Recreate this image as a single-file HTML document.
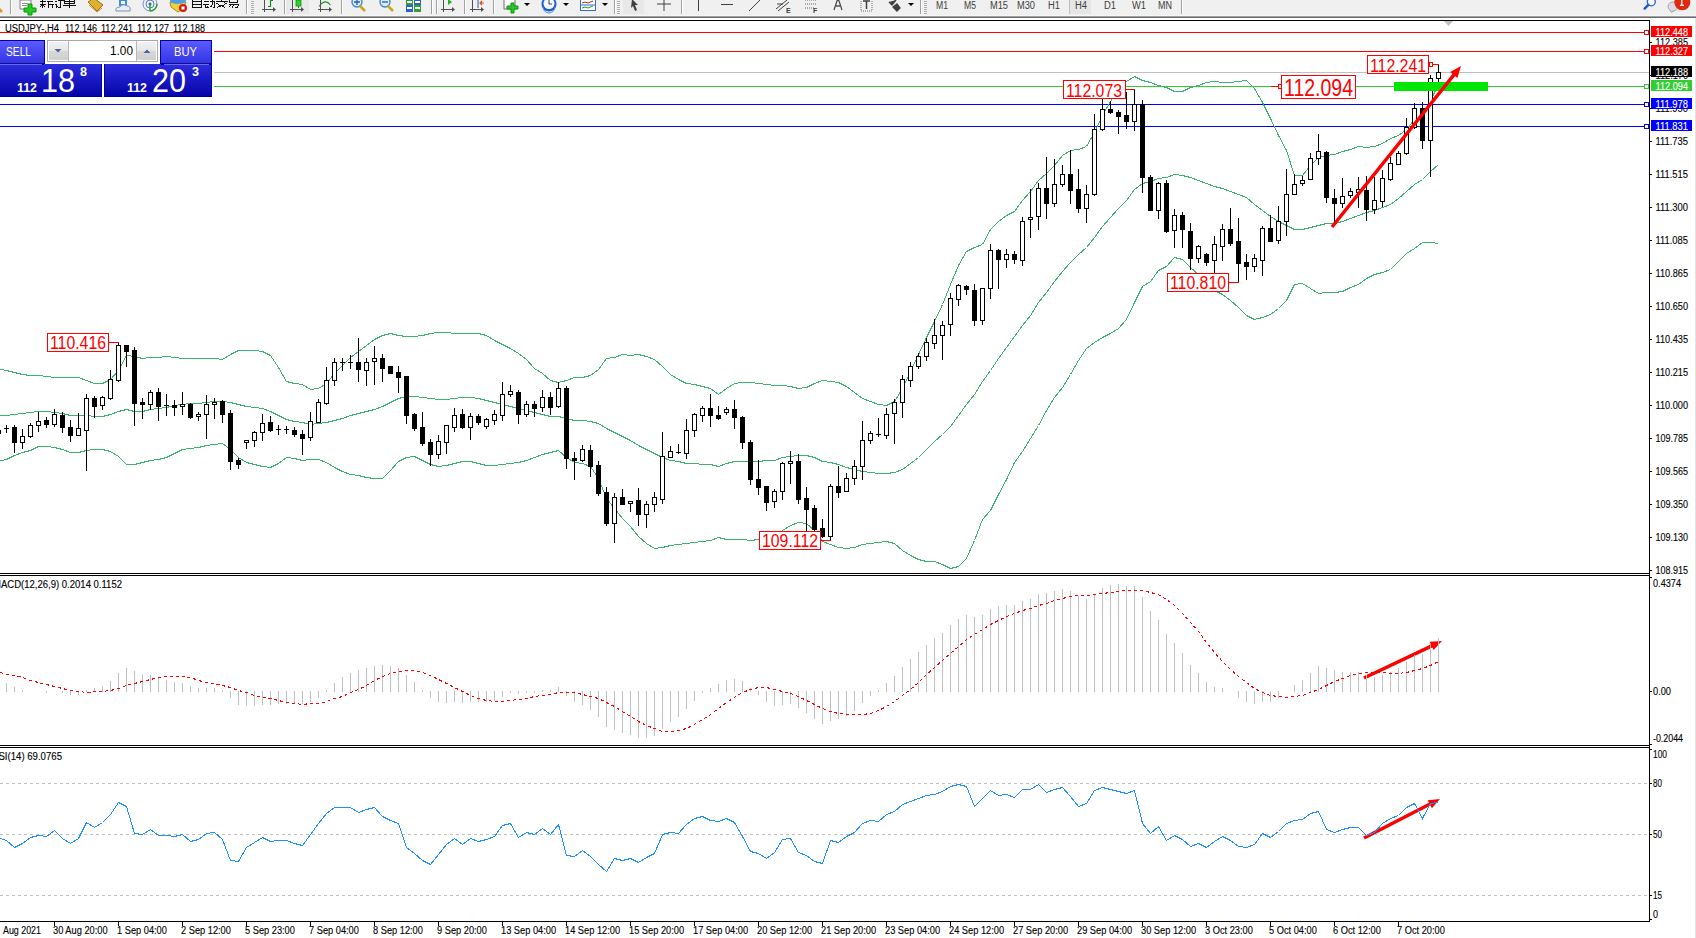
<!DOCTYPE html>
<html><head><meta charset="utf-8"><title>USDJPY H4</title>
<style>html,body{margin:0;padding:0;background:#fff;overflow:hidden}svg{display:block}text{font-family:"Liberation Sans",sans-serif}</style>
</head><body>
<svg width="1696" height="938" viewBox="0 0 1696 938">
<rect x="0" y="0" width="1696" height="938" fill="#ffffff"/>
<rect x="0" y="32" width="1649" height="1" fill="#ff0000"/>
<rect x="0" y="51" width="1649" height="1" fill="#ff0000"/>
<rect x="0" y="72" width="1649" height="1" fill="#c0c0c0"/>
<rect x="0" y="86" width="1649" height="1" fill="#32cd32"/>
<rect x="0" y="104" width="1649" height="1" fill="#0000ff"/>
<rect x="0" y="126" width="1649" height="1" fill="#0000ff"/>
<polyline points="-2.00,368.50 6.50,370.50 14.50,372.50 22.50,374.50 30.50,375.50 38.50,375.50 46.50,376.50 54.50,377.50 62.50,377.50 70.50,377.50 78.50,377.50 86.50,380.50 94.50,383.50 102.50,383.50 110.50,379.50 118.50,370.50 126.50,355.50 134.50,356.50 142.50,358.50 150.50,357.50 158.50,357.50 166.50,356.50 174.50,357.50 182.50,358.50 190.50,358.50 198.50,358.50 206.50,358.50 214.50,358.50 222.50,359.50 230.50,354.50 238.50,350.50 246.50,350.50 254.50,350.50 262.50,351.50 270.50,355.50 278.50,367.50 286.50,381.50 294.50,383.50 302.50,384.50 310.50,389.50 318.50,388.50 326.50,383.50 334.50,373.50 342.50,365.50 350.50,357.50 358.50,351.50 366.50,345.50 374.50,339.50 382.50,335.50 390.50,333.50 398.50,335.50 406.50,336.50 414.50,336.50 422.50,335.50 430.50,333.50 438.50,332.50 446.50,332.50 454.50,333.50 462.50,333.50 470.50,333.50 478.50,333.50 486.50,335.50 494.50,340.50 502.50,344.50 510.50,348.50 518.50,353.50 526.50,359.50 534.50,368.50 542.50,373.50 550.50,380.50 558.50,382.50 566.50,380.50 574.50,377.50 582.50,377.50 590.50,375.50 598.50,369.50 606.50,358.50 614.50,357.50 622.50,354.50 630.50,355.50 638.50,354.50 646.50,356.50 654.50,359.50 662.50,366.50 670.50,374.50 678.50,379.50 686.50,383.50 694.50,384.50 702.50,386.50 710.50,388.50 718.50,394.50 726.50,388.50 734.50,383.50 742.50,382.50 750.50,382.50 758.50,383.50 766.50,384.50 774.50,385.50 782.50,385.50 790.50,386.50 798.50,388.50 806.50,387.50 814.50,383.50 822.50,380.50 830.50,381.50 838.50,382.50 846.50,386.50 854.50,392.50 862.50,398.50 870.50,401.50 878.50,404.50 886.50,405.50 894.50,401.50 902.50,388.50 910.50,371.50 918.50,354.50 926.50,337.50 934.50,321.50 942.50,304.50 950.50,284.50 958.50,265.50 966.50,251.50 974.50,247.50 982.50,244.50 990.50,229.50 998.50,221.50 1006.50,215.50 1014.50,211.50 1022.50,200.50 1030.50,191.50 1038.50,180.50 1046.50,173.50 1054.50,165.50 1062.50,155.50 1070.50,150.50 1078.50,149.50 1086.50,146.50 1094.50,132.50 1102.50,115.50 1110.50,101.50 1118.50,89.50 1126.50,81.50 1134.50,76.50 1142.50,80.50 1150.50,82.50 1158.50,85.50 1166.50,87.50 1174.50,91.50 1182.50,91.50 1190.50,87.50 1198.50,85.50 1206.50,82.50 1214.50,81.50 1222.50,82.50 1230.50,82.50 1238.50,81.50 1246.50,80.50 1254.50,88.50 1262.50,102.50 1270.50,118.50 1278.50,135.50 1286.50,150.50 1294.50,175.50 1302.50,175.50 1310.50,165.50 1318.50,157.50 1326.50,155.50 1334.50,154.50 1342.50,151.50 1350.50,149.50 1358.50,146.50 1366.50,147.50 1374.50,146.50 1382.50,143.50 1390.50,138.50 1398.50,135.50 1406.50,129.50 1414.50,119.50 1422.50,116.50 1430.50,100.50 1438.50,84.50" fill="none" stroke="#3cb371" stroke-width="1" shape-rendering="crispEdges"/>
<polyline points="-2.00,415.50 6.50,415.50 14.50,414.50 22.50,413.50 30.50,412.50 38.50,411.50 46.50,411.50 54.50,412.50 62.50,413.50 70.50,415.50 78.50,415.50 86.50,415.50 94.50,416.50 102.50,416.50 110.50,414.50 118.50,411.50 126.50,409.50 134.50,411.50 142.50,411.50 150.50,409.50 158.50,408.50 166.50,407.50 174.50,405.50 182.50,404.50 190.50,403.50 198.50,403.50 206.50,402.50 214.50,401.50 222.50,401.50 230.50,402.50 238.50,404.50 246.50,406.50 254.50,407.50 262.50,408.50 270.50,411.50 278.50,415.50 286.50,419.50 294.50,421.50 302.50,422.50 310.50,424.50 318.50,423.50 326.50,422.50 334.50,420.50 342.50,418.50 350.50,415.50 358.50,413.50 366.50,411.50 374.50,409.50 382.50,406.50 390.50,402.50 398.50,398.50 406.50,396.50 414.50,396.50 422.50,397.50 430.50,398.50 438.50,399.50 446.50,399.50 454.50,398.50 462.50,397.50 470.50,397.50 478.50,398.50 486.50,400.50 494.50,402.50 502.50,404.50 510.50,406.50 518.50,408.50 526.50,410.50 534.50,412.50 542.50,414.50 550.50,416.50 558.50,416.50 566.50,418.50 574.50,420.50 582.50,420.50 590.50,421.50 598.50,423.50 606.50,428.50 614.50,432.50 622.50,436.50 630.50,440.50 638.50,445.50 646.50,449.50 654.50,453.50 662.50,457.50 670.50,460.50 678.50,461.50 686.50,463.50 694.50,463.50 702.50,464.50 710.50,464.50 718.50,466.50 726.50,463.50 734.50,461.50 742.50,461.50 750.50,461.50 758.50,461.50 766.50,460.50 774.50,460.50 782.50,457.50 790.50,456.50 798.50,455.50 806.50,455.50 814.50,457.50 822.50,461.50 830.50,462.50 838.50,464.50 846.50,467.50 854.50,469.50 862.50,471.50 870.50,472.50 878.50,473.50 886.50,473.50 894.50,472.50 902.50,469.50 910.50,463.50 918.50,457.50 926.50,449.50 934.50,441.50 942.50,434.50 950.50,426.50 958.50,415.50 966.50,404.50 974.50,394.50 982.50,381.50 990.50,370.50 998.50,358.50 1006.50,347.50 1014.50,336.50 1022.50,325.50 1030.50,315.50 1038.50,302.50 1046.50,292.50 1054.50,281.50 1062.50,271.50 1070.50,262.50 1078.50,254.50 1086.50,247.50 1094.50,237.50 1102.50,226.50 1110.50,217.50 1118.50,208.50 1126.50,200.50 1134.50,189.50 1142.50,183.50 1150.50,181.50 1158.50,178.50 1166.50,177.50 1174.50,174.50 1182.50,175.50 1190.50,177.50 1198.50,180.50 1206.50,183.50 1214.50,186.50 1222.50,188.50 1230.50,191.50 1238.50,194.50 1246.50,197.50 1254.50,204.50 1262.50,210.50 1270.50,216.50 1278.50,221.50 1286.50,225.50 1294.50,229.50 1302.50,229.50 1310.50,227.50 1318.50,225.50 1326.50,223.50 1334.50,223.50 1342.50,221.50 1350.50,218.50 1358.50,215.50 1366.50,212.50 1374.50,210.50 1382.50,207.50 1390.50,204.50 1398.50,198.50 1406.50,191.50 1414.50,184.50 1422.50,179.50 1430.50,171.50 1438.50,164.50" fill="none" stroke="#3cb371" stroke-width="1" shape-rendering="crispEdges"/>
<polyline points="-2.00,461.50 6.50,459.50 14.50,455.50 22.50,452.50 30.50,450.50 38.50,446.50 46.50,446.50 54.50,447.50 62.50,449.50 70.50,452.50 78.50,452.50 86.50,450.50 94.50,449.50 102.50,449.50 110.50,451.50 118.50,456.50 126.50,464.50 134.50,464.50 142.50,462.50 150.50,460.50 158.50,459.50 166.50,457.50 174.50,453.50 182.50,449.50 190.50,448.50 198.50,447.50 206.50,445.50 214.50,444.50 222.50,443.50 230.50,449.50 238.50,457.50 246.50,462.50 254.50,464.50 262.50,466.50 270.50,467.50 278.50,463.50 286.50,457.50 294.50,458.50 302.50,460.50 310.50,459.50 318.50,459.50 326.50,462.50 334.50,467.50 342.50,471.50 350.50,474.50 358.50,475.50 366.50,477.50 374.50,478.50 382.50,478.50 390.50,470.50 398.50,461.50 406.50,457.50 414.50,456.50 422.50,460.50 430.50,464.50 438.50,466.50 446.50,465.50 454.50,463.50 462.50,461.50 470.50,461.50 478.50,463.50 486.50,465.50 494.50,465.50 502.50,464.50 510.50,463.50 518.50,462.50 526.50,460.50 534.50,457.50 542.50,454.50 550.50,452.50 558.50,450.50 566.50,457.50 574.50,462.50 582.50,463.50 590.50,466.50 598.50,478.50 606.50,498.50 614.50,508.50 622.50,518.50 630.50,526.50 638.50,536.50 646.50,543.50 654.50,548.50 662.50,547.50 670.50,545.50 678.50,544.50 686.50,543.50 694.50,542.50 702.50,541.50 710.50,540.50 718.50,537.50 726.50,539.50 734.50,539.50 742.50,539.50 750.50,540.50 758.50,539.50 766.50,535.50 774.50,535.50 782.50,530.50 790.50,525.50 798.50,522.50 806.50,523.50 814.50,530.50 822.50,541.50 830.50,544.50 838.50,547.50 846.50,548.50 854.50,547.50 862.50,544.50 870.50,543.50 878.50,542.50 886.50,541.50 894.50,543.50 902.50,550.50 910.50,555.50 918.50,559.50 926.50,561.50 934.50,561.50 942.50,564.50 950.50,568.50 958.50,566.50 966.50,558.50 974.50,540.50 982.50,519.50 990.50,510.50 998.50,494.50 1006.50,479.50 1014.50,462.50 1022.50,451.50 1030.50,438.50 1038.50,425.50 1046.50,410.50 1054.50,397.50 1062.50,387.50 1070.50,374.50 1078.50,360.50 1086.50,348.50 1094.50,342.50 1102.50,337.50 1110.50,333.50 1118.50,328.50 1126.50,319.50 1134.50,302.50 1142.50,286.50 1150.50,281.50 1158.50,270.50 1166.50,266.50 1174.50,257.50 1182.50,259.50 1190.50,267.50 1198.50,274.50 1206.50,284.50 1214.50,290.50 1222.50,294.50 1230.50,300.50 1238.50,307.50 1246.50,315.50 1254.50,319.50 1262.50,317.50 1270.50,314.50 1278.50,308.50 1286.50,300.50 1294.50,284.50 1302.50,283.50 1310.50,288.50 1318.50,293.50 1326.50,292.50 1334.50,292.50 1342.50,291.50 1350.50,287.50 1358.50,284.50 1366.50,278.50 1374.50,274.50 1382.50,272.50 1390.50,269.50 1398.50,261.50 1406.50,253.50 1414.50,248.50 1422.50,242.50 1430.50,242.50 1438.50,243.50" fill="none" stroke="#3cb371" stroke-width="1" shape-rendering="crispEdges"/>
<rect x="-2" y="426" width="1" height="11" fill="#000000"/>
<rect x="-4" y="430" width="5" height="4" fill="#000000"/>
<rect x="6" y="425" width="1" height="8" fill="#000000"/>
<rect x="4" y="428" width="5" height="1" fill="#000000"/>
<rect x="14" y="425" width="1" height="28" fill="#000000"/>
<rect x="12" y="427" width="5" height="16" fill="#000000"/>
<rect x="22" y="429" width="1" height="20" fill="#000000"/>
<rect x="20" y="436" width="5" height="7" fill="#000000"/>
<rect x="21" y="437" width="3" height="5" fill="#ffffff"/>
<rect x="30" y="423" width="1" height="15" fill="#000000"/>
<rect x="28" y="425" width="5" height="12" fill="#000000"/>
<rect x="29" y="426" width="3" height="10" fill="#ffffff"/>
<rect x="38" y="412" width="1" height="20" fill="#000000"/>
<rect x="36" y="421" width="5" height="5" fill="#000000"/>
<rect x="37" y="422" width="3" height="3" fill="#ffffff"/>
<rect x="46" y="417" width="1" height="11" fill="#000000"/>
<rect x="44" y="420" width="5" height="5" fill="#000000"/>
<rect x="54" y="409" width="1" height="18" fill="#000000"/>
<rect x="52" y="414" width="5" height="11" fill="#000000"/>
<rect x="53" y="415" width="3" height="9" fill="#ffffff"/>
<rect x="62" y="412" width="1" height="21" fill="#000000"/>
<rect x="60" y="415" width="5" height="13" fill="#000000"/>
<rect x="70" y="420" width="1" height="22" fill="#000000"/>
<rect x="68" y="427" width="5" height="9" fill="#000000"/>
<rect x="78" y="413" width="1" height="23" fill="#000000"/>
<rect x="76" y="428" width="5" height="8" fill="#000000"/>
<rect x="77" y="429" width="3" height="6" fill="#ffffff"/>
<rect x="86" y="394" width="1" height="77" fill="#000000"/>
<rect x="84" y="398" width="5" height="33" fill="#000000"/>
<rect x="85" y="399" width="3" height="31" fill="#ffffff"/>
<rect x="94" y="396" width="1" height="22" fill="#000000"/>
<rect x="92" y="398" width="5" height="9" fill="#000000"/>
<rect x="102" y="396" width="1" height="14" fill="#000000"/>
<rect x="100" y="397" width="5" height="9" fill="#000000"/>
<rect x="101" y="398" width="3" height="7" fill="#ffffff"/>
<rect x="110" y="370" width="1" height="30" fill="#000000"/>
<rect x="108" y="379" width="5" height="20" fill="#000000"/>
<rect x="109" y="380" width="3" height="18" fill="#ffffff"/>
<rect x="118" y="342" width="1" height="40" fill="#000000"/>
<rect x="116" y="345" width="5" height="36" fill="#000000"/>
<rect x="117" y="346" width="3" height="34" fill="#ffffff"/>
<rect x="126" y="345" width="1" height="22" fill="#000000"/>
<rect x="124" y="345" width="5" height="7" fill="#000000"/>
<rect x="134" y="347" width="1" height="79" fill="#000000"/>
<rect x="132" y="350" width="5" height="54" fill="#000000"/>
<rect x="142" y="398" width="1" height="21" fill="#000000"/>
<rect x="140" y="402" width="5" height="3" fill="#000000"/>
<rect x="150" y="390" width="1" height="20" fill="#000000"/>
<rect x="148" y="392" width="5" height="13" fill="#000000"/>
<rect x="149" y="393" width="3" height="11" fill="#ffffff"/>
<rect x="158" y="388" width="1" height="33" fill="#000000"/>
<rect x="156" y="392" width="5" height="15" fill="#000000"/>
<rect x="166" y="394" width="1" height="22" fill="#000000"/>
<rect x="164" y="405" width="5" height="1" fill="#000000"/>
<rect x="174" y="400" width="1" height="16" fill="#000000"/>
<rect x="172" y="405" width="5" height="3" fill="#000000"/>
<rect x="182" y="392" width="1" height="23" fill="#000000"/>
<rect x="180" y="404" width="5" height="3" fill="#000000"/>
<rect x="181" y="405" width="3" height="1" fill="#ffffff"/>
<rect x="190" y="403" width="1" height="16" fill="#000000"/>
<rect x="188" y="404" width="5" height="14" fill="#000000"/>
<rect x="198" y="412" width="1" height="9" fill="#000000"/>
<rect x="196" y="414" width="5" height="3" fill="#000000"/>
<rect x="197" y="415" width="3" height="1" fill="#ffffff"/>
<rect x="206" y="395" width="1" height="44" fill="#000000"/>
<rect x="204" y="404" width="5" height="11" fill="#000000"/>
<rect x="205" y="405" width="3" height="9" fill="#ffffff"/>
<rect x="214" y="398" width="1" height="21" fill="#000000"/>
<rect x="212" y="402" width="5" height="3" fill="#000000"/>
<rect x="213" y="403" width="3" height="1" fill="#ffffff"/>
<rect x="222" y="400" width="1" height="23" fill="#000000"/>
<rect x="220" y="401" width="5" height="14" fill="#000000"/>
<rect x="230" y="410" width="1" height="60" fill="#000000"/>
<rect x="228" y="413" width="5" height="49" fill="#000000"/>
<rect x="238" y="458" width="1" height="11" fill="#000000"/>
<rect x="236" y="460" width="5" height="5" fill="#000000"/>
<rect x="246" y="440" width="1" height="9" fill="#000000"/>
<rect x="244" y="440" width="5" height="3" fill="#000000"/>
<rect x="245" y="441" width="3" height="1" fill="#ffffff"/>
<rect x="254" y="431" width="1" height="16" fill="#000000"/>
<rect x="252" y="432" width="5" height="9" fill="#000000"/>
<rect x="253" y="433" width="3" height="7" fill="#ffffff"/>
<rect x="262" y="414" width="1" height="27" fill="#000000"/>
<rect x="260" y="423" width="5" height="10" fill="#000000"/>
<rect x="261" y="424" width="3" height="8" fill="#ffffff"/>
<rect x="270" y="416" width="1" height="16" fill="#000000"/>
<rect x="268" y="422" width="5" height="9" fill="#000000"/>
<rect x="278" y="425" width="1" height="10" fill="#000000"/>
<rect x="276" y="429" width="5" height="1" fill="#000000"/>
<rect x="286" y="426" width="1" height="8" fill="#000000"/>
<rect x="284" y="429" width="5" height="1" fill="#000000"/>
<rect x="294" y="427" width="1" height="10" fill="#000000"/>
<rect x="292" y="430" width="5" height="5" fill="#000000"/>
<rect x="302" y="430" width="1" height="25" fill="#000000"/>
<rect x="300" y="434" width="5" height="5" fill="#000000"/>
<rect x="310" y="412" width="1" height="29" fill="#000000"/>
<rect x="308" y="421" width="5" height="17" fill="#000000"/>
<rect x="309" y="422" width="3" height="15" fill="#ffffff"/>
<rect x="318" y="399" width="1" height="24" fill="#000000"/>
<rect x="316" y="402" width="5" height="21" fill="#000000"/>
<rect x="317" y="403" width="3" height="19" fill="#ffffff"/>
<rect x="326" y="367" width="1" height="38" fill="#000000"/>
<rect x="324" y="380" width="5" height="24" fill="#000000"/>
<rect x="325" y="381" width="3" height="22" fill="#ffffff"/>
<rect x="334" y="358" width="1" height="28" fill="#000000"/>
<rect x="332" y="362" width="5" height="19" fill="#000000"/>
<rect x="333" y="363" width="3" height="17" fill="#ffffff"/>
<rect x="342" y="358" width="1" height="13" fill="#000000"/>
<rect x="340" y="362" width="5" height="1" fill="#000000"/>
<rect x="350" y="355" width="1" height="14" fill="#000000"/>
<rect x="348" y="362" width="5" height="1" fill="#000000"/>
<rect x="358" y="338" width="1" height="44" fill="#000000"/>
<rect x="356" y="362" width="5" height="8" fill="#000000"/>
<rect x="366" y="358" width="1" height="28" fill="#000000"/>
<rect x="364" y="362" width="5" height="9" fill="#000000"/>
<rect x="365" y="363" width="3" height="7" fill="#ffffff"/>
<rect x="374" y="346" width="1" height="39" fill="#000000"/>
<rect x="372" y="358" width="5" height="4" fill="#000000"/>
<rect x="373" y="359" width="3" height="2" fill="#ffffff"/>
<rect x="382" y="354" width="1" height="28" fill="#000000"/>
<rect x="380" y="358" width="5" height="11" fill="#000000"/>
<rect x="390" y="366" width="1" height="8" fill="#000000"/>
<rect x="388" y="366" width="5" height="8" fill="#000000"/>
<rect x="398" y="366" width="1" height="27" fill="#000000"/>
<rect x="396" y="372" width="5" height="6" fill="#000000"/>
<rect x="406" y="376" width="1" height="48" fill="#000000"/>
<rect x="404" y="376" width="5" height="40" fill="#000000"/>
<rect x="414" y="413" width="1" height="18" fill="#000000"/>
<rect x="412" y="414" width="5" height="15" fill="#000000"/>
<rect x="422" y="412" width="1" height="34" fill="#000000"/>
<rect x="420" y="427" width="5" height="17" fill="#000000"/>
<rect x="430" y="439" width="1" height="27" fill="#000000"/>
<rect x="428" y="442" width="5" height="13" fill="#000000"/>
<rect x="438" y="435" width="1" height="24" fill="#000000"/>
<rect x="436" y="441" width="5" height="14" fill="#000000"/>
<rect x="437" y="442" width="3" height="12" fill="#ffffff"/>
<rect x="446" y="425" width="1" height="29" fill="#000000"/>
<rect x="444" y="425" width="5" height="18" fill="#000000"/>
<rect x="445" y="426" width="3" height="16" fill="#ffffff"/>
<rect x="454" y="408" width="1" height="24" fill="#000000"/>
<rect x="452" y="415" width="5" height="13" fill="#000000"/>
<rect x="453" y="416" width="3" height="11" fill="#ffffff"/>
<rect x="462" y="409" width="1" height="20" fill="#000000"/>
<rect x="460" y="414" width="5" height="14" fill="#000000"/>
<rect x="470" y="413" width="1" height="27" fill="#000000"/>
<rect x="468" y="416" width="5" height="12" fill="#000000"/>
<rect x="469" y="417" width="3" height="10" fill="#ffffff"/>
<rect x="478" y="414" width="1" height="11" fill="#000000"/>
<rect x="476" y="416" width="5" height="7" fill="#000000"/>
<rect x="486" y="418" width="1" height="11" fill="#000000"/>
<rect x="484" y="419" width="5" height="8" fill="#000000"/>
<rect x="485" y="420" width="3" height="6" fill="#ffffff"/>
<rect x="494" y="410" width="1" height="15" fill="#000000"/>
<rect x="492" y="414" width="5" height="7" fill="#000000"/>
<rect x="493" y="415" width="3" height="5" fill="#ffffff"/>
<rect x="502" y="382" width="1" height="39" fill="#000000"/>
<rect x="500" y="394" width="5" height="22" fill="#000000"/>
<rect x="501" y="395" width="3" height="20" fill="#ffffff"/>
<rect x="510" y="385" width="1" height="12" fill="#000000"/>
<rect x="508" y="391" width="5" height="4" fill="#000000"/>
<rect x="509" y="392" width="3" height="2" fill="#ffffff"/>
<rect x="518" y="390" width="1" height="34" fill="#000000"/>
<rect x="516" y="392" width="5" height="23" fill="#000000"/>
<rect x="526" y="401" width="1" height="16" fill="#000000"/>
<rect x="524" y="404" width="5" height="11" fill="#000000"/>
<rect x="525" y="405" width="3" height="9" fill="#ffffff"/>
<rect x="534" y="401" width="1" height="16" fill="#000000"/>
<rect x="532" y="404" width="5" height="5" fill="#000000"/>
<rect x="542" y="390" width="1" height="22" fill="#000000"/>
<rect x="540" y="397" width="5" height="11" fill="#000000"/>
<rect x="541" y="398" width="3" height="9" fill="#ffffff"/>
<rect x="550" y="392" width="1" height="23" fill="#000000"/>
<rect x="548" y="397" width="5" height="11" fill="#000000"/>
<rect x="558" y="382" width="1" height="26" fill="#000000"/>
<rect x="556" y="388" width="5" height="19" fill="#000000"/>
<rect x="557" y="389" width="3" height="17" fill="#ffffff"/>
<rect x="566" y="386" width="1" height="83" fill="#000000"/>
<rect x="564" y="388" width="5" height="71" fill="#000000"/>
<rect x="574" y="452" width="1" height="28" fill="#000000"/>
<rect x="572" y="458" width="5" height="3" fill="#000000"/>
<rect x="582" y="445" width="1" height="17" fill="#000000"/>
<rect x="580" y="449" width="5" height="12" fill="#000000"/>
<rect x="581" y="450" width="3" height="10" fill="#ffffff"/>
<rect x="590" y="445" width="1" height="32" fill="#000000"/>
<rect x="588" y="450" width="5" height="17" fill="#000000"/>
<rect x="598" y="461" width="1" height="35" fill="#000000"/>
<rect x="596" y="465" width="5" height="29" fill="#000000"/>
<rect x="606" y="487" width="1" height="39" fill="#000000"/>
<rect x="604" y="492" width="5" height="32" fill="#000000"/>
<rect x="614" y="493" width="1" height="50" fill="#000000"/>
<rect x="612" y="497" width="5" height="27" fill="#000000"/>
<rect x="613" y="498" width="3" height="25" fill="#ffffff"/>
<rect x="622" y="489" width="1" height="16" fill="#000000"/>
<rect x="620" y="497" width="5" height="8" fill="#000000"/>
<rect x="630" y="501" width="1" height="11" fill="#000000"/>
<rect x="628" y="501" width="5" height="3" fill="#000000"/>
<rect x="629" y="502" width="3" height="1" fill="#ffffff"/>
<rect x="638" y="488" width="1" height="38" fill="#000000"/>
<rect x="636" y="500" width="5" height="15" fill="#000000"/>
<rect x="646" y="501" width="1" height="27" fill="#000000"/>
<rect x="644" y="504" width="5" height="11" fill="#000000"/>
<rect x="645" y="505" width="3" height="9" fill="#ffffff"/>
<rect x="654" y="492" width="1" height="20" fill="#000000"/>
<rect x="652" y="497" width="5" height="8" fill="#000000"/>
<rect x="653" y="498" width="3" height="6" fill="#ffffff"/>
<rect x="662" y="432" width="1" height="72" fill="#000000"/>
<rect x="660" y="456" width="5" height="44" fill="#000000"/>
<rect x="661" y="457" width="3" height="42" fill="#ffffff"/>
<rect x="670" y="446" width="1" height="12" fill="#000000"/>
<rect x="668" y="451" width="5" height="7" fill="#000000"/>
<rect x="669" y="452" width="3" height="5" fill="#ffffff"/>
<rect x="678" y="444" width="1" height="10" fill="#000000"/>
<rect x="676" y="452" width="5" height="1" fill="#000000"/>
<rect x="686" y="419" width="1" height="40" fill="#000000"/>
<rect x="684" y="430" width="5" height="24" fill="#000000"/>
<rect x="685" y="431" width="3" height="22" fill="#ffffff"/>
<rect x="694" y="413" width="1" height="24" fill="#000000"/>
<rect x="692" y="414" width="5" height="17" fill="#000000"/>
<rect x="693" y="415" width="3" height="15" fill="#ffffff"/>
<rect x="702" y="406" width="1" height="16" fill="#000000"/>
<rect x="700" y="408" width="5" height="8" fill="#000000"/>
<rect x="701" y="409" width="3" height="6" fill="#ffffff"/>
<rect x="710" y="394" width="1" height="33" fill="#000000"/>
<rect x="708" y="408" width="5" height="8" fill="#000000"/>
<rect x="718" y="406" width="1" height="14" fill="#000000"/>
<rect x="716" y="415" width="5" height="4" fill="#000000"/>
<rect x="726" y="407" width="1" height="8" fill="#000000"/>
<rect x="724" y="409" width="5" height="4" fill="#000000"/>
<rect x="725" y="410" width="3" height="2" fill="#ffffff"/>
<rect x="734" y="400" width="1" height="29" fill="#000000"/>
<rect x="732" y="409" width="5" height="9" fill="#000000"/>
<rect x="742" y="416" width="1" height="33" fill="#000000"/>
<rect x="740" y="417" width="5" height="26" fill="#000000"/>
<rect x="750" y="440" width="1" height="45" fill="#000000"/>
<rect x="748" y="442" width="5" height="38" fill="#000000"/>
<rect x="758" y="460" width="1" height="35" fill="#000000"/>
<rect x="756" y="479" width="5" height="9" fill="#000000"/>
<rect x="766" y="486" width="1" height="25" fill="#000000"/>
<rect x="764" y="486" width="5" height="17" fill="#000000"/>
<rect x="774" y="489" width="1" height="19" fill="#000000"/>
<rect x="772" y="491" width="5" height="11" fill="#000000"/>
<rect x="773" y="492" width="3" height="9" fill="#ffffff"/>
<rect x="782" y="462" width="1" height="38" fill="#000000"/>
<rect x="780" y="463" width="5" height="29" fill="#000000"/>
<rect x="781" y="464" width="3" height="27" fill="#ffffff"/>
<rect x="790" y="451" width="1" height="33" fill="#000000"/>
<rect x="788" y="461" width="5" height="3" fill="#000000"/>
<rect x="789" y="462" width="3" height="1" fill="#ffffff"/>
<rect x="798" y="454" width="1" height="50" fill="#000000"/>
<rect x="796" y="461" width="5" height="39" fill="#000000"/>
<rect x="806" y="487" width="1" height="46" fill="#000000"/>
<rect x="804" y="498" width="5" height="12" fill="#000000"/>
<rect x="814" y="505" width="1" height="27" fill="#000000"/>
<rect x="812" y="508" width="5" height="22" fill="#000000"/>
<rect x="822" y="519" width="1" height="19" fill="#000000"/>
<rect x="820" y="528" width="5" height="9" fill="#000000"/>
<rect x="830" y="484" width="1" height="57" fill="#000000"/>
<rect x="828" y="486" width="5" height="51" fill="#000000"/>
<rect x="829" y="487" width="3" height="49" fill="#ffffff"/>
<rect x="838" y="466" width="1" height="32" fill="#000000"/>
<rect x="836" y="486" width="5" height="7" fill="#000000"/>
<rect x="846" y="473" width="1" height="19" fill="#000000"/>
<rect x="844" y="478" width="5" height="14" fill="#000000"/>
<rect x="845" y="479" width="3" height="12" fill="#ffffff"/>
<rect x="854" y="460" width="1" height="25" fill="#000000"/>
<rect x="852" y="466" width="5" height="13" fill="#000000"/>
<rect x="853" y="467" width="3" height="11" fill="#ffffff"/>
<rect x="862" y="421" width="1" height="59" fill="#000000"/>
<rect x="860" y="440" width="5" height="27" fill="#000000"/>
<rect x="861" y="441" width="3" height="25" fill="#ffffff"/>
<rect x="870" y="431" width="1" height="13" fill="#000000"/>
<rect x="868" y="433" width="5" height="8" fill="#000000"/>
<rect x="869" y="434" width="3" height="6" fill="#ffffff"/>
<rect x="878" y="418" width="1" height="19" fill="#000000"/>
<rect x="876" y="434" width="5" height="1" fill="#000000"/>
<rect x="886" y="408" width="1" height="31" fill="#000000"/>
<rect x="884" y="414" width="5" height="22" fill="#000000"/>
<rect x="885" y="415" width="3" height="20" fill="#ffffff"/>
<rect x="894" y="399" width="1" height="45" fill="#000000"/>
<rect x="892" y="402" width="5" height="12" fill="#000000"/>
<rect x="893" y="403" width="3" height="10" fill="#ffffff"/>
<rect x="902" y="375" width="1" height="43" fill="#000000"/>
<rect x="900" y="379" width="5" height="24" fill="#000000"/>
<rect x="901" y="380" width="3" height="22" fill="#ffffff"/>
<rect x="910" y="362" width="1" height="25" fill="#000000"/>
<rect x="908" y="366" width="5" height="15" fill="#000000"/>
<rect x="909" y="367" width="3" height="13" fill="#ffffff"/>
<rect x="918" y="353" width="1" height="16" fill="#000000"/>
<rect x="916" y="356" width="5" height="11" fill="#000000"/>
<rect x="917" y="357" width="3" height="9" fill="#ffffff"/>
<rect x="926" y="338" width="1" height="23" fill="#000000"/>
<rect x="924" y="342" width="5" height="15" fill="#000000"/>
<rect x="925" y="343" width="3" height="13" fill="#ffffff"/>
<rect x="934" y="319" width="1" height="30" fill="#000000"/>
<rect x="932" y="335" width="5" height="9" fill="#000000"/>
<rect x="933" y="336" width="3" height="7" fill="#ffffff"/>
<rect x="942" y="321" width="1" height="39" fill="#000000"/>
<rect x="940" y="325" width="5" height="11" fill="#000000"/>
<rect x="941" y="326" width="3" height="9" fill="#ffffff"/>
<rect x="950" y="293" width="1" height="43" fill="#000000"/>
<rect x="948" y="298" width="5" height="27" fill="#000000"/>
<rect x="949" y="299" width="3" height="25" fill="#ffffff"/>
<rect x="958" y="284" width="1" height="22" fill="#000000"/>
<rect x="956" y="285" width="5" height="15" fill="#000000"/>
<rect x="957" y="286" width="3" height="13" fill="#ffffff"/>
<rect x="966" y="285" width="1" height="10" fill="#000000"/>
<rect x="964" y="286" width="5" height="4" fill="#000000"/>
<rect x="974" y="284" width="1" height="42" fill="#000000"/>
<rect x="972" y="290" width="5" height="31" fill="#000000"/>
<rect x="982" y="288" width="1" height="37" fill="#000000"/>
<rect x="980" y="288" width="5" height="33" fill="#000000"/>
<rect x="981" y="289" width="3" height="31" fill="#ffffff"/>
<rect x="990" y="244" width="1" height="55" fill="#000000"/>
<rect x="988" y="250" width="5" height="39" fill="#000000"/>
<rect x="989" y="251" width="3" height="37" fill="#ffffff"/>
<rect x="998" y="249" width="1" height="40" fill="#000000"/>
<rect x="996" y="250" width="5" height="10" fill="#000000"/>
<rect x="1006" y="249" width="1" height="19" fill="#000000"/>
<rect x="1004" y="254" width="5" height="6" fill="#000000"/>
<rect x="1005" y="255" width="3" height="4" fill="#ffffff"/>
<rect x="1014" y="251" width="1" height="13" fill="#000000"/>
<rect x="1012" y="254" width="5" height="6" fill="#000000"/>
<rect x="1022" y="217" width="1" height="49" fill="#000000"/>
<rect x="1020" y="221" width="5" height="40" fill="#000000"/>
<rect x="1021" y="222" width="3" height="38" fill="#ffffff"/>
<rect x="1030" y="189" width="1" height="49" fill="#000000"/>
<rect x="1028" y="217" width="5" height="3" fill="#000000"/>
<rect x="1029" y="218" width="3" height="1" fill="#ffffff"/>
<rect x="1038" y="183" width="1" height="47" fill="#000000"/>
<rect x="1036" y="188" width="5" height="29" fill="#000000"/>
<rect x="1037" y="189" width="3" height="27" fill="#ffffff"/>
<rect x="1046" y="157" width="1" height="62" fill="#000000"/>
<rect x="1044" y="188" width="5" height="16" fill="#000000"/>
<rect x="1054" y="159" width="1" height="48" fill="#000000"/>
<rect x="1052" y="184" width="5" height="20" fill="#000000"/>
<rect x="1053" y="185" width="3" height="18" fill="#ffffff"/>
<rect x="1062" y="165" width="1" height="22" fill="#000000"/>
<rect x="1060" y="174" width="5" height="11" fill="#000000"/>
<rect x="1061" y="175" width="3" height="9" fill="#ffffff"/>
<rect x="1070" y="150" width="1" height="54" fill="#000000"/>
<rect x="1068" y="174" width="5" height="17" fill="#000000"/>
<rect x="1078" y="169" width="1" height="44" fill="#000000"/>
<rect x="1076" y="189" width="5" height="20" fill="#000000"/>
<rect x="1086" y="185" width="1" height="38" fill="#000000"/>
<rect x="1084" y="194" width="5" height="15" fill="#000000"/>
<rect x="1085" y="195" width="3" height="13" fill="#ffffff"/>
<rect x="1094" y="114" width="1" height="82" fill="#000000"/>
<rect x="1092" y="129" width="5" height="66" fill="#000000"/>
<rect x="1093" y="130" width="3" height="64" fill="#ffffff"/>
<rect x="1102" y="94" width="1" height="37" fill="#000000"/>
<rect x="1100" y="109" width="5" height="21" fill="#000000"/>
<rect x="1101" y="110" width="3" height="19" fill="#ffffff"/>
<rect x="1110" y="101" width="1" height="13" fill="#000000"/>
<rect x="1108" y="109" width="5" height="4" fill="#000000"/>
<rect x="1118" y="110" width="1" height="24" fill="#000000"/>
<rect x="1116" y="112" width="5" height="5" fill="#000000"/>
<rect x="1126" y="92" width="1" height="37" fill="#000000"/>
<rect x="1124" y="115" width="5" height="7" fill="#000000"/>
<rect x="1134" y="89" width="1" height="42" fill="#000000"/>
<rect x="1132" y="104" width="5" height="18" fill="#000000"/>
<rect x="1133" y="105" width="3" height="16" fill="#ffffff"/>
<rect x="1142" y="100" width="1" height="93" fill="#000000"/>
<rect x="1140" y="104" width="5" height="74" fill="#000000"/>
<rect x="1150" y="175" width="1" height="36" fill="#000000"/>
<rect x="1148" y="177" width="5" height="34" fill="#000000"/>
<rect x="1158" y="182" width="1" height="37" fill="#000000"/>
<rect x="1156" y="183" width="5" height="28" fill="#000000"/>
<rect x="1157" y="184" width="3" height="26" fill="#ffffff"/>
<rect x="1166" y="180" width="1" height="53" fill="#000000"/>
<rect x="1164" y="183" width="5" height="49" fill="#000000"/>
<rect x="1174" y="209" width="1" height="39" fill="#000000"/>
<rect x="1172" y="215" width="5" height="16" fill="#000000"/>
<rect x="1173" y="216" width="3" height="14" fill="#ffffff"/>
<rect x="1182" y="212" width="1" height="36" fill="#000000"/>
<rect x="1180" y="215" width="5" height="15" fill="#000000"/>
<rect x="1190" y="223" width="1" height="47" fill="#000000"/>
<rect x="1188" y="231" width="5" height="28" fill="#000000"/>
<rect x="1198" y="245" width="1" height="18" fill="#000000"/>
<rect x="1196" y="246" width="5" height="13" fill="#000000"/>
<rect x="1197" y="247" width="3" height="11" fill="#ffffff"/>
<rect x="1206" y="253" width="1" height="13" fill="#000000"/>
<rect x="1204" y="254" width="5" height="9" fill="#000000"/>
<rect x="1214" y="236" width="1" height="38" fill="#000000"/>
<rect x="1212" y="244" width="5" height="17" fill="#000000"/>
<rect x="1213" y="245" width="3" height="15" fill="#ffffff"/>
<rect x="1222" y="224" width="1" height="37" fill="#000000"/>
<rect x="1220" y="229" width="5" height="18" fill="#000000"/>
<rect x="1221" y="230" width="3" height="16" fill="#ffffff"/>
<rect x="1230" y="208" width="1" height="38" fill="#000000"/>
<rect x="1228" y="229" width="5" height="15" fill="#000000"/>
<rect x="1238" y="218" width="1" height="65" fill="#000000"/>
<rect x="1236" y="241" width="5" height="23" fill="#000000"/>
<rect x="1246" y="254" width="1" height="26" fill="#000000"/>
<rect x="1244" y="262" width="5" height="5" fill="#000000"/>
<rect x="1254" y="254" width="1" height="18" fill="#000000"/>
<rect x="1252" y="258" width="5" height="9" fill="#000000"/>
<rect x="1253" y="259" width="3" height="7" fill="#ffffff"/>
<rect x="1262" y="226" width="1" height="50" fill="#000000"/>
<rect x="1260" y="228" width="5" height="33" fill="#000000"/>
<rect x="1261" y="229" width="3" height="31" fill="#ffffff"/>
<rect x="1270" y="215" width="1" height="27" fill="#000000"/>
<rect x="1268" y="228" width="5" height="14" fill="#000000"/>
<rect x="1278" y="206" width="1" height="38" fill="#000000"/>
<rect x="1276" y="221" width="5" height="20" fill="#000000"/>
<rect x="1277" y="222" width="3" height="18" fill="#ffffff"/>
<rect x="1286" y="169" width="1" height="67" fill="#000000"/>
<rect x="1284" y="194" width="5" height="28" fill="#000000"/>
<rect x="1285" y="195" width="3" height="26" fill="#ffffff"/>
<rect x="1294" y="174" width="1" height="21" fill="#000000"/>
<rect x="1292" y="184" width="5" height="11" fill="#000000"/>
<rect x="1293" y="185" width="3" height="9" fill="#ffffff"/>
<rect x="1302" y="176" width="1" height="10" fill="#000000"/>
<rect x="1300" y="180" width="5" height="4" fill="#000000"/>
<rect x="1301" y="181" width="3" height="2" fill="#ffffff"/>
<rect x="1310" y="153" width="1" height="27" fill="#000000"/>
<rect x="1308" y="158" width="5" height="22" fill="#000000"/>
<rect x="1309" y="159" width="3" height="20" fill="#ffffff"/>
<rect x="1318" y="134" width="1" height="31" fill="#000000"/>
<rect x="1316" y="151" width="5" height="8" fill="#000000"/>
<rect x="1317" y="152" width="3" height="6" fill="#ffffff"/>
<rect x="1326" y="151" width="1" height="52" fill="#000000"/>
<rect x="1324" y="152" width="5" height="46" fill="#000000"/>
<rect x="1334" y="189" width="1" height="35" fill="#000000"/>
<rect x="1332" y="198" width="5" height="6" fill="#000000"/>
<rect x="1342" y="178" width="1" height="30" fill="#000000"/>
<rect x="1340" y="196" width="5" height="8" fill="#000000"/>
<rect x="1341" y="197" width="3" height="6" fill="#ffffff"/>
<rect x="1350" y="188" width="1" height="10" fill="#000000"/>
<rect x="1348" y="191" width="5" height="5" fill="#000000"/>
<rect x="1349" y="192" width="3" height="3" fill="#ffffff"/>
<rect x="1358" y="177" width="1" height="31" fill="#000000"/>
<rect x="1356" y="189" width="5" height="4" fill="#000000"/>
<rect x="1357" y="190" width="3" height="2" fill="#ffffff"/>
<rect x="1366" y="176" width="1" height="45" fill="#000000"/>
<rect x="1364" y="190" width="5" height="20" fill="#000000"/>
<rect x="1374" y="177" width="1" height="37" fill="#000000"/>
<rect x="1372" y="200" width="5" height="10" fill="#000000"/>
<rect x="1373" y="201" width="3" height="8" fill="#ffffff"/>
<rect x="1382" y="170" width="1" height="37" fill="#000000"/>
<rect x="1380" y="178" width="5" height="24" fill="#000000"/>
<rect x="1381" y="179" width="3" height="22" fill="#ffffff"/>
<rect x="1390" y="157" width="1" height="24" fill="#000000"/>
<rect x="1388" y="163" width="5" height="17" fill="#000000"/>
<rect x="1389" y="164" width="3" height="15" fill="#ffffff"/>
<rect x="1398" y="151" width="1" height="14" fill="#000000"/>
<rect x="1396" y="153" width="5" height="12" fill="#000000"/>
<rect x="1397" y="154" width="3" height="10" fill="#ffffff"/>
<rect x="1406" y="118" width="1" height="37" fill="#000000"/>
<rect x="1404" y="127" width="5" height="27" fill="#000000"/>
<rect x="1405" y="128" width="3" height="25" fill="#ffffff"/>
<rect x="1414" y="103" width="1" height="26" fill="#000000"/>
<rect x="1412" y="108" width="5" height="20" fill="#000000"/>
<rect x="1413" y="109" width="3" height="18" fill="#ffffff"/>
<rect x="1422" y="102" width="1" height="47" fill="#000000"/>
<rect x="1420" y="108" width="5" height="33" fill="#000000"/>
<rect x="1430" y="75" width="1" height="102" fill="#000000"/>
<rect x="1428" y="78" width="5" height="63" fill="#000000"/>
<rect x="1429" y="79" width="3" height="61" fill="#ffffff"/>
<rect x="1438" y="64" width="1" height="19" fill="#000000"/>
<rect x="1436" y="72" width="5" height="7" fill="#000000"/>
<rect x="1437" y="73" width="3" height="5" fill="#ffffff"/>
<rect x="1644" y="30" width="5" height="5" fill="#ff0000"/>
<rect x="1645" y="31" width="3" height="3" fill="#ffffff"/>
<rect x="1644" y="49" width="5" height="5" fill="#ff0000"/>
<rect x="1645" y="50" width="3" height="3" fill="#ffffff"/>
<rect x="1644" y="84" width="5" height="5" fill="#32cd32"/>
<rect x="1645" y="85" width="3" height="3" fill="#ffffff"/>
<rect x="1644" y="102" width="5" height="5" fill="#0000ff"/>
<rect x="1645" y="103" width="3" height="3" fill="#ffffff"/>
<rect x="1644" y="124" width="5" height="5" fill="#0000ff"/>
<rect x="1645" y="125" width="3" height="3" fill="#ffffff"/>
<rect x="47" y="333" width="62" height="19" fill="#ff0000"/>
<rect x="48" y="334" width="60" height="17" fill="#ffffff"/>
<text x="50" y="349" font-family="Liberation Serif" font-size="17.51" fill="#ff0000" text-anchor="start" font-weight="normal" textLength="56" lengthAdjust="spacingAndGlyphs">110.416</text>
<rect x="109" y="342" width="10" height="1" fill="#ff0000"/>
<rect x="759" y="531" width="62" height="19" fill="#ff0000"/>
<rect x="760" y="532" width="60" height="17" fill="#ffffff"/>
<text x="762" y="547" font-family="Liberation Serif" font-size="17.51" fill="#ff0000" text-anchor="start" font-weight="normal" textLength="56" lengthAdjust="spacingAndGlyphs">109.112</text>
<rect x="821" y="540" width="10" height="1" fill="#ff0000"/>
<rect x="1063" y="80" width="63" height="19" fill="#ff0000"/>
<rect x="1064" y="81" width="61" height="17" fill="#ffffff"/>
<text x="1066" y="97" font-family="Liberation Serif" font-size="17.51" fill="#ff0000" text-anchor="start" font-weight="normal" textLength="56" lengthAdjust="spacingAndGlyphs">112.073</text>
<rect x="1126" y="89" width="9" height="1" fill="#ff0000"/>
<rect x="1134" y="89" width="1" height="1" fill="#ff0000"/>
<rect x="1167" y="273" width="62" height="19" fill="#ff0000"/>
<rect x="1168" y="274" width="60" height="17" fill="#ffffff"/>
<text x="1170" y="289" font-family="Liberation Serif" font-size="17.51" fill="#ff0000" text-anchor="start" font-weight="normal" textLength="56" lengthAdjust="spacingAndGlyphs">110.810</text>
<rect x="1229" y="282" width="10" height="1" fill="#ff0000"/>
<rect x="1367" y="55" width="62" height="19" fill="#ff0000"/>
<rect x="1368" y="56" width="60" height="17" fill="#ffffff"/>
<text x="1370" y="72" font-family="Liberation Serif" font-size="17.51" fill="#ff0000" text-anchor="start" font-weight="normal" textLength="56" lengthAdjust="spacingAndGlyphs">112.241</text>
<rect x="1429" y="62" width="4" height="5" fill="#ff0000"/>
<rect x="1430" y="63" width="2" height="3" fill="#ffffff"/>
<rect x="1433" y="64" width="6" height="1" fill="#ff0000"/>
<rect x="1281" y="75" width="75" height="24" fill="#ff0000"/>
<rect x="1282" y="76" width="73" height="22" fill="#ffffff"/>
<text x="1284" y="96" font-family="Liberation Serif" font-size="23.175" fill="#ff0000" text-anchor="start" font-weight="normal" textLength="69" lengthAdjust="spacingAndGlyphs">112.094</text>
<rect x="1271" y="86" width="7" height="1" fill="#ff0000"/>
<rect x="1278" y="84" width="4" height="5" fill="#ff0000"/>
<rect x="1279" y="85" width="2" height="3" fill="#ffffff"/>
<rect x="1394" y="82" width="94" height="9" fill="#00e600"/>
<line x1="1332" y1="227" x2="1455.1" y2="73.4" stroke="#ff0000" stroke-width="3.4"/>
<polygon points="1461,66 1457.4,77.9 1450.2,72.1" fill="#ff0000"/>
<line x1="1364" y1="678" x2="1433.4" y2="645.1" stroke="#ff0000" stroke-width="3.4"/>
<polygon points="1442,641 1433.6,650.1 1429.6,641.8" fill="#ff0000"/>
<line x1="1364" y1="838" x2="1431.5" y2="803.3" stroke="#ff0000" stroke-width="3.4"/>
<polygon points="1440,799 1431.9,808.3 1427.7,800.2" fill="#ff0000"/>
<polygon points="1444,21 1453,21 1448.5,26" fill="#c0c0c0"/>
<text x="5" y="32" font-family="Liberation Sans" font-size="10" fill="#000000" text-anchor="start" font-weight="normal" textLength="54" lengthAdjust="spacingAndGlyphs" stroke="#000000" stroke-width="0.12">USDJPY-,H4</text>
<text x="65" y="32" font-family="Liberation Sans" font-size="10" fill="#000000" text-anchor="start" font-weight="normal" textLength="32" lengthAdjust="spacingAndGlyphs" stroke="#000000" stroke-width="0.12">112.146</text>
<text x="101" y="32" font-family="Liberation Sans" font-size="10" fill="#000000" text-anchor="start" font-weight="normal" textLength="32" lengthAdjust="spacingAndGlyphs" stroke="#000000" stroke-width="0.12">112.241</text>
<text x="137" y="32" font-family="Liberation Sans" font-size="10" fill="#000000" text-anchor="start" font-weight="normal" textLength="32" lengthAdjust="spacingAndGlyphs" stroke="#000000" stroke-width="0.12">112.127</text>
<text x="173" y="32" font-family="Liberation Sans" font-size="10" fill="#000000" text-anchor="start" font-weight="normal" textLength="32" lengthAdjust="spacingAndGlyphs" stroke="#000000" stroke-width="0.12">112.188</text>
<defs>
<linearGradient id="gHead" x1="0" y1="0" x2="0" y2="1"><stop offset="0" stop-color="#5b5bff"/><stop offset="1" stop-color="#3434e4"/></linearGradient>
<linearGradient id="gPrice" x1="0" y1="0" x2="0" y2="1"><stop offset="0" stop-color="#2c2cdc"/><stop offset="1" stop-color="#0505a8"/></linearGradient>
<linearGradient id="gBtn" x1="0" y1="0" x2="0" y2="1"><stop offset="0" stop-color="#f2f2f2"/><stop offset="0.5" stop-color="#e6e6e6"/><stop offset="0.5" stop-color="#d8d8d8"/><stop offset="1" stop-color="#d0d0d0"/></linearGradient>
<linearGradient id="gTb" x1="0" y1="0" x2="0" y2="1"><stop offset="0" stop-color="#f0f0f0"/><stop offset="1" stop-color="#f0f0f0"/></linearGradient>
</defs>
<rect x="0" y="39" width="214" height="59" fill="#ffffff"/>
<path d="M0,40 H45 V64 H102 V97 H0 Z" fill="#0000a8"/>
<rect x="0" y="41" width="44" height="22" fill="url(#gHead)"/>
<rect x="0" y="63" width="42" height="1" fill="#10108a"/>
<rect x="0" y="64" width="42" height="1" fill="#6a6af0"/>
<rect x="0" y="65" width="101" height="31" fill="url(#gPrice)"/>
<rect x="44" y="64" width="57" height="1" fill="#2c2cdc"/>
<path d="M160,40 H212 V97 H104 V64 H160 Z" fill="#0000a8"/>
<rect x="161" y="41" width="50" height="22" fill="url(#gHead)"/>
<rect x="164" y="63" width="45" height="1" fill="#10108a"/>
<rect x="164" y="64" width="45" height="1" fill="#6a6af0"/>
<rect x="105" y="65" width="106" height="31" fill="url(#gPrice)"/>
<rect x="105" y="64" width="56" height="1" fill="#2c2cdc"/>
<rect x="47" y="40" width="111" height="22" fill="#a8a8a8"/>
<rect x="48" y="41" width="109" height="20" fill="#ffffff"/>
<rect x="49" y="42" width="19" height="18" fill="url(#gBtn)"/>
<rect x="68" y="41" width="1" height="20" fill="#b8b8b8"/>
<rect x="137" y="42" width="19" height="18" fill="url(#gBtn)"/>
<rect x="136" y="41" width="1" height="20" fill="#b8b8b8"/>
<polygon points="54.5,49 61.5,49 58,52.5" fill="#5060a8"/>
<polygon points="143.5,53 150.5,53 147,49.5" fill="#5060a8"/>
<text x="110" y="55" font-family="Liberation Sans" font-size="12" fill="#000000" text-anchor="start" font-weight="normal" textLength="23" lengthAdjust="spacingAndGlyphs">1.00</text>
<text x="6" y="56" font-family="Liberation Sans" font-size="12" fill="#ffffff" text-anchor="start" font-weight="normal" textLength="25" lengthAdjust="spacingAndGlyphs">SELL</text>
<text x="174" y="56" font-family="Liberation Sans" font-size="12" fill="#ffffff" text-anchor="start" font-weight="normal" textLength="23" lengthAdjust="spacingAndGlyphs">BUY</text>
<text x="17" y="92" font-family="Liberation Sans" font-size="13" fill="#ffffff" text-anchor="start" font-weight="bold" textLength="20" lengthAdjust="spacingAndGlyphs">112</text>
<text x="41" y="92" font-family="Liberation Sans" font-size="34" fill="#ffffff" text-anchor="start" font-weight="normal" textLength="34" lengthAdjust="spacingAndGlyphs">18</text>
<text x="80" y="76" font-family="Liberation Sans" font-size="12.5" fill="#ffffff" text-anchor="start" font-weight="bold" textLength="7" lengthAdjust="spacingAndGlyphs">8</text>
<text x="127" y="92" font-family="Liberation Sans" font-size="13" fill="#ffffff" text-anchor="start" font-weight="bold" textLength="20" lengthAdjust="spacingAndGlyphs">112</text>
<text x="152" y="92" font-family="Liberation Sans" font-size="34" fill="#ffffff" text-anchor="start" font-weight="normal" textLength="34" lengthAdjust="spacingAndGlyphs">20</text>
<text x="192" y="76" font-family="Liberation Sans" font-size="12.5" fill="#ffffff" text-anchor="start" font-weight="bold" textLength="7" lengthAdjust="spacingAndGlyphs">3</text>
<rect x="1650" y="42" width="2" height="1" fill="#000000"/>
<text x="1655.5" y="46" font-family="Liberation Sans" font-size="10.5" fill="#000000" text-anchor="start" font-weight="normal" textLength="32.5" lengthAdjust="spacingAndGlyphs" stroke="#000000" stroke-width="0.12">112.385</text>
<rect x="1650" y="75" width="2" height="1" fill="#000000"/>
<text x="1655.5" y="79" font-family="Liberation Sans" font-size="10.5" fill="#000000" text-anchor="start" font-weight="normal" textLength="32.5" lengthAdjust="spacingAndGlyphs" stroke="#000000" stroke-width="0.12">112.170</text>
<rect x="1650" y="108" width="2" height="1" fill="#000000"/>
<text x="1655.5" y="112" font-family="Liberation Sans" font-size="10.5" fill="#000000" text-anchor="start" font-weight="normal" textLength="32.5" lengthAdjust="spacingAndGlyphs" stroke="#000000" stroke-width="0.12">111.950</text>
<rect x="1650" y="141" width="2" height="1" fill="#000000"/>
<text x="1655.5" y="145" font-family="Liberation Sans" font-size="10.5" fill="#000000" text-anchor="start" font-weight="normal" textLength="32.5" lengthAdjust="spacingAndGlyphs" stroke="#000000" stroke-width="0.12">111.735</text>
<rect x="1650" y="174" width="2" height="1" fill="#000000"/>
<text x="1655.5" y="178" font-family="Liberation Sans" font-size="10.5" fill="#000000" text-anchor="start" font-weight="normal" textLength="32.5" lengthAdjust="spacingAndGlyphs" stroke="#000000" stroke-width="0.12">111.515</text>
<rect x="1650" y="207" width="2" height="1" fill="#000000"/>
<text x="1655.5" y="211" font-family="Liberation Sans" font-size="10.5" fill="#000000" text-anchor="start" font-weight="normal" textLength="32.5" lengthAdjust="spacingAndGlyphs" stroke="#000000" stroke-width="0.12">111.300</text>
<rect x="1650" y="240" width="2" height="1" fill="#000000"/>
<text x="1655.5" y="244" font-family="Liberation Sans" font-size="10.5" fill="#000000" text-anchor="start" font-weight="normal" textLength="32.5" lengthAdjust="spacingAndGlyphs" stroke="#000000" stroke-width="0.12">111.085</text>
<rect x="1650" y="273" width="2" height="1" fill="#000000"/>
<text x="1655.5" y="277" font-family="Liberation Sans" font-size="10.5" fill="#000000" text-anchor="start" font-weight="normal" textLength="32.5" lengthAdjust="spacingAndGlyphs" stroke="#000000" stroke-width="0.12">110.865</text>
<rect x="1650" y="306" width="2" height="1" fill="#000000"/>
<text x="1655.5" y="310" font-family="Liberation Sans" font-size="10.5" fill="#000000" text-anchor="start" font-weight="normal" textLength="32.5" lengthAdjust="spacingAndGlyphs" stroke="#000000" stroke-width="0.12">110.650</text>
<rect x="1650" y="339" width="2" height="1" fill="#000000"/>
<text x="1655.5" y="343" font-family="Liberation Sans" font-size="10.5" fill="#000000" text-anchor="start" font-weight="normal" textLength="32.5" lengthAdjust="spacingAndGlyphs" stroke="#000000" stroke-width="0.12">110.435</text>
<rect x="1650" y="372" width="2" height="1" fill="#000000"/>
<text x="1655.5" y="376" font-family="Liberation Sans" font-size="10.5" fill="#000000" text-anchor="start" font-weight="normal" textLength="32.5" lengthAdjust="spacingAndGlyphs" stroke="#000000" stroke-width="0.12">110.215</text>
<rect x="1650" y="405" width="2" height="1" fill="#000000"/>
<text x="1655.5" y="409" font-family="Liberation Sans" font-size="10.5" fill="#000000" text-anchor="start" font-weight="normal" textLength="32.5" lengthAdjust="spacingAndGlyphs" stroke="#000000" stroke-width="0.12">110.000</text>
<rect x="1650" y="438" width="2" height="1" fill="#000000"/>
<text x="1655.5" y="442" font-family="Liberation Sans" font-size="10.5" fill="#000000" text-anchor="start" font-weight="normal" textLength="32.5" lengthAdjust="spacingAndGlyphs" stroke="#000000" stroke-width="0.12">109.785</text>
<rect x="1650" y="471" width="2" height="1" fill="#000000"/>
<text x="1655.5" y="475" font-family="Liberation Sans" font-size="10.5" fill="#000000" text-anchor="start" font-weight="normal" textLength="32.5" lengthAdjust="spacingAndGlyphs" stroke="#000000" stroke-width="0.12">109.565</text>
<rect x="1650" y="504" width="2" height="1" fill="#000000"/>
<text x="1655.5" y="508" font-family="Liberation Sans" font-size="10.5" fill="#000000" text-anchor="start" font-weight="normal" textLength="32.5" lengthAdjust="spacingAndGlyphs" stroke="#000000" stroke-width="0.12">109.350</text>
<rect x="1650" y="537" width="2" height="1" fill="#000000"/>
<text x="1655.5" y="541" font-family="Liberation Sans" font-size="10.5" fill="#000000" text-anchor="start" font-weight="normal" textLength="32.5" lengthAdjust="spacingAndGlyphs" stroke="#000000" stroke-width="0.12">109.130</text>
<rect x="1650" y="570" width="2" height="1" fill="#000000"/>
<text x="1655.5" y="574" font-family="Liberation Sans" font-size="10.5" fill="#000000" text-anchor="start" font-weight="normal" textLength="32.5" lengthAdjust="spacingAndGlyphs" stroke="#000000" stroke-width="0.12">108.915</text>
<rect x="1651" y="26" width="41" height="11" fill="#ff0000"/>
<text x="1655.5" y="36" font-family="Liberation Sans" font-size="10.5" fill="#ffffff" text-anchor="start" font-weight="normal" textLength="32.5" lengthAdjust="spacingAndGlyphs" stroke="#ffffff" stroke-width="0.12">112.448</text>
<rect x="1651" y="45" width="41" height="11" fill="#ff0000"/>
<text x="1655.5" y="55" font-family="Liberation Sans" font-size="10.5" fill="#ffffff" text-anchor="start" font-weight="normal" textLength="32.5" lengthAdjust="spacingAndGlyphs" stroke="#ffffff" stroke-width="0.12">112.327</text>
<rect x="1651" y="66" width="41" height="11" fill="#000000"/>
<text x="1655.5" y="76" font-family="Liberation Sans" font-size="10.5" fill="#ffffff" text-anchor="start" font-weight="normal" textLength="32.5" lengthAdjust="spacingAndGlyphs" stroke="#ffffff" stroke-width="0.12">112.188</text>
<rect x="1651" y="80" width="41" height="11" fill="#32cd32"/>
<text x="1655.5" y="90" font-family="Liberation Sans" font-size="10.5" fill="#ffffff" text-anchor="start" font-weight="normal" textLength="32.5" lengthAdjust="spacingAndGlyphs" stroke="#ffffff" stroke-width="0.12">112.094</text>
<rect x="1651" y="98" width="41" height="11" fill="#0000ff"/>
<text x="1655.5" y="108" font-family="Liberation Sans" font-size="10.5" fill="#ffffff" text-anchor="start" font-weight="normal" textLength="32.5" lengthAdjust="spacingAndGlyphs" stroke="#ffffff" stroke-width="0.12">111.978</text>
<rect x="1651" y="120" width="41" height="11" fill="#0000ff"/>
<text x="1655.5" y="130" font-family="Liberation Sans" font-size="10.5" fill="#ffffff" text-anchor="start" font-weight="normal" textLength="32.5" lengthAdjust="spacingAndGlyphs" stroke="#ffffff" stroke-width="0.12">111.831</text>
<rect x="6" y="683" width="1" height="9" fill="#c0c0c0"/>
<rect x="14" y="687" width="1" height="5" fill="#c0c0c0"/>
<rect x="22" y="690" width="1" height="2" fill="#c0c0c0"/>
<rect x="46" y="691" width="1" height="2" fill="#c0c0c0"/>
<rect x="62" y="691" width="1" height="2" fill="#c0c0c0"/>
<rect x="70" y="691" width="1" height="4" fill="#c0c0c0"/>
<rect x="78" y="691" width="1" height="4" fill="#c0c0c0"/>
<rect x="86" y="690" width="1" height="2" fill="#c0c0c0"/>
<rect x="94" y="688" width="1" height="4" fill="#c0c0c0"/>
<rect x="102" y="686" width="1" height="6" fill="#c0c0c0"/>
<rect x="110" y="681" width="1" height="11" fill="#c0c0c0"/>
<rect x="118" y="673" width="1" height="19" fill="#c0c0c0"/>
<rect x="126" y="668" width="1" height="24" fill="#c0c0c0"/>
<rect x="134" y="671" width="1" height="21" fill="#c0c0c0"/>
<rect x="142" y="674" width="1" height="18" fill="#c0c0c0"/>
<rect x="150" y="675" width="1" height="17" fill="#c0c0c0"/>
<rect x="158" y="678" width="1" height="14" fill="#c0c0c0"/>
<rect x="166" y="680" width="1" height="12" fill="#c0c0c0"/>
<rect x="174" y="682" width="1" height="10" fill="#c0c0c0"/>
<rect x="182" y="683" width="1" height="9" fill="#c0c0c0"/>
<rect x="190" y="686" width="1" height="6" fill="#c0c0c0"/>
<rect x="198" y="688" width="1" height="4" fill="#c0c0c0"/>
<rect x="206" y="688" width="1" height="4" fill="#c0c0c0"/>
<rect x="214" y="688" width="1" height="4" fill="#c0c0c0"/>
<rect x="222" y="690" width="1" height="2" fill="#c0c0c0"/>
<rect x="230" y="691" width="1" height="7" fill="#c0c0c0"/>
<rect x="238" y="691" width="1" height="14" fill="#c0c0c0"/>
<rect x="246" y="691" width="1" height="15" fill="#c0c0c0"/>
<rect x="254" y="691" width="1" height="15" fill="#c0c0c0"/>
<rect x="262" y="691" width="1" height="14" fill="#c0c0c0"/>
<rect x="270" y="691" width="1" height="14" fill="#c0c0c0"/>
<rect x="278" y="691" width="1" height="13" fill="#c0c0c0"/>
<rect x="286" y="691" width="1" height="13" fill="#c0c0c0"/>
<rect x="294" y="691" width="1" height="13" fill="#c0c0c0"/>
<rect x="302" y="691" width="1" height="13" fill="#c0c0c0"/>
<rect x="310" y="691" width="1" height="11" fill="#c0c0c0"/>
<rect x="318" y="691" width="1" height="7" fill="#c0c0c0"/>
<rect x="326" y="690" width="1" height="2" fill="#c0c0c0"/>
<rect x="334" y="683" width="1" height="9" fill="#c0c0c0"/>
<rect x="342" y="677" width="1" height="15" fill="#c0c0c0"/>
<rect x="350" y="673" width="1" height="19" fill="#c0c0c0"/>
<rect x="358" y="670" width="1" height="22" fill="#c0c0c0"/>
<rect x="366" y="668" width="1" height="24" fill="#c0c0c0"/>
<rect x="374" y="666" width="1" height="26" fill="#c0c0c0"/>
<rect x="382" y="665" width="1" height="27" fill="#c0c0c0"/>
<rect x="390" y="666" width="1" height="26" fill="#c0c0c0"/>
<rect x="398" y="668" width="1" height="24" fill="#c0c0c0"/>
<rect x="406" y="675" width="1" height="17" fill="#c0c0c0"/>
<rect x="414" y="682" width="1" height="10" fill="#c0c0c0"/>
<rect x="422" y="690" width="1" height="2" fill="#c0c0c0"/>
<rect x="430" y="691" width="1" height="7" fill="#c0c0c0"/>
<rect x="438" y="691" width="1" height="11" fill="#c0c0c0"/>
<rect x="446" y="691" width="1" height="12" fill="#c0c0c0"/>
<rect x="454" y="691" width="1" height="11" fill="#c0c0c0"/>
<rect x="462" y="691" width="1" height="12" fill="#c0c0c0"/>
<rect x="470" y="691" width="1" height="11" fill="#c0c0c0"/>
<rect x="478" y="691" width="1" height="11" fill="#c0c0c0"/>
<rect x="486" y="691" width="1" height="11" fill="#c0c0c0"/>
<rect x="494" y="691" width="1" height="10" fill="#c0c0c0"/>
<rect x="502" y="691" width="1" height="6" fill="#c0c0c0"/>
<rect x="510" y="691" width="1" height="2" fill="#c0c0c0"/>
<rect x="518" y="691" width="1" height="3" fill="#c0c0c0"/>
<rect x="526" y="691" width="1" height="2" fill="#c0c0c0"/>
<rect x="534" y="691" width="1" height="2" fill="#c0c0c0"/>
<rect x="542" y="690" width="1" height="2" fill="#c0c0c0"/>
<rect x="550" y="690" width="1" height="2" fill="#c0c0c0"/>
<rect x="558" y="687" width="1" height="5" fill="#c0c0c0"/>
<rect x="566" y="691" width="1" height="5" fill="#c0c0c0"/>
<rect x="574" y="691" width="1" height="11" fill="#c0c0c0"/>
<rect x="582" y="691" width="1" height="14" fill="#c0c0c0"/>
<rect x="590" y="691" width="1" height="19" fill="#c0c0c0"/>
<rect x="598" y="691" width="1" height="26" fill="#c0c0c0"/>
<rect x="606" y="691" width="1" height="36" fill="#c0c0c0"/>
<rect x="614" y="691" width="1" height="39" fill="#c0c0c0"/>
<rect x="622" y="691" width="1" height="42" fill="#c0c0c0"/>
<rect x="630" y="691" width="1" height="44" fill="#c0c0c0"/>
<rect x="638" y="691" width="1" height="47" fill="#c0c0c0"/>
<rect x="646" y="691" width="1" height="47" fill="#c0c0c0"/>
<rect x="654" y="691" width="1" height="45" fill="#c0c0c0"/>
<rect x="662" y="691" width="1" height="38" fill="#c0c0c0"/>
<rect x="670" y="691" width="1" height="31" fill="#c0c0c0"/>
<rect x="678" y="691" width="1" height="26" fill="#c0c0c0"/>
<rect x="686" y="691" width="1" height="18" fill="#c0c0c0"/>
<rect x="694" y="691" width="1" height="10" fill="#c0c0c0"/>
<rect x="702" y="691" width="1" height="2" fill="#c0c0c0"/>
<rect x="710" y="688" width="1" height="4" fill="#c0c0c0"/>
<rect x="718" y="684" width="1" height="8" fill="#c0c0c0"/>
<rect x="726" y="680" width="1" height="12" fill="#c0c0c0"/>
<rect x="734" y="679" width="1" height="13" fill="#c0c0c0"/>
<rect x="742" y="681" width="1" height="11" fill="#c0c0c0"/>
<rect x="750" y="688" width="1" height="4" fill="#c0c0c0"/>
<rect x="758" y="691" width="1" height="4" fill="#c0c0c0"/>
<rect x="766" y="691" width="1" height="11" fill="#c0c0c0"/>
<rect x="774" y="691" width="1" height="15" fill="#c0c0c0"/>
<rect x="782" y="691" width="1" height="14" fill="#c0c0c0"/>
<rect x="790" y="691" width="1" height="13" fill="#c0c0c0"/>
<rect x="798" y="691" width="1" height="17" fill="#c0c0c0"/>
<rect x="806" y="691" width="1" height="22" fill="#c0c0c0"/>
<rect x="814" y="691" width="1" height="28" fill="#c0c0c0"/>
<rect x="822" y="691" width="1" height="33" fill="#c0c0c0"/>
<rect x="830" y="691" width="1" height="30" fill="#c0c0c0"/>
<rect x="838" y="691" width="1" height="28" fill="#c0c0c0"/>
<rect x="846" y="691" width="1" height="25" fill="#c0c0c0"/>
<rect x="854" y="691" width="1" height="20" fill="#c0c0c0"/>
<rect x="862" y="691" width="1" height="12" fill="#c0c0c0"/>
<rect x="870" y="691" width="1" height="5" fill="#c0c0c0"/>
<rect x="878" y="690" width="1" height="2" fill="#c0c0c0"/>
<rect x="886" y="683" width="1" height="9" fill="#c0c0c0"/>
<rect x="894" y="676" width="1" height="16" fill="#c0c0c0"/>
<rect x="902" y="667" width="1" height="25" fill="#c0c0c0"/>
<rect x="910" y="659" width="1" height="33" fill="#c0c0c0"/>
<rect x="918" y="652" width="1" height="40" fill="#c0c0c0"/>
<rect x="926" y="645" width="1" height="47" fill="#c0c0c0"/>
<rect x="934" y="638" width="1" height="54" fill="#c0c0c0"/>
<rect x="942" y="633" width="1" height="59" fill="#c0c0c0"/>
<rect x="950" y="625" width="1" height="67" fill="#c0c0c0"/>
<rect x="958" y="619" width="1" height="73" fill="#c0c0c0"/>
<rect x="966" y="615" width="1" height="77" fill="#c0c0c0"/>
<rect x="974" y="617" width="1" height="75" fill="#c0c0c0"/>
<rect x="982" y="615" width="1" height="77" fill="#c0c0c0"/>
<rect x="990" y="609" width="1" height="83" fill="#c0c0c0"/>
<rect x="998" y="606" width="1" height="86" fill="#c0c0c0"/>
<rect x="1006" y="605" width="1" height="87" fill="#c0c0c0"/>
<rect x="1014" y="605" width="1" height="87" fill="#c0c0c0"/>
<rect x="1022" y="601" width="1" height="91" fill="#c0c0c0"/>
<rect x="1030" y="599" width="1" height="93" fill="#c0c0c0"/>
<rect x="1038" y="594" width="1" height="98" fill="#c0c0c0"/>
<rect x="1046" y="593" width="1" height="99" fill="#c0c0c0"/>
<rect x="1054" y="591" width="1" height="101" fill="#c0c0c0"/>
<rect x="1062" y="589" width="1" height="103" fill="#c0c0c0"/>
<rect x="1070" y="591" width="1" height="101" fill="#c0c0c0"/>
<rect x="1078" y="596" width="1" height="96" fill="#c0c0c0"/>
<rect x="1086" y="599" width="1" height="93" fill="#c0c0c0"/>
<rect x="1094" y="594" width="1" height="98" fill="#c0c0c0"/>
<rect x="1102" y="588" width="1" height="104" fill="#c0c0c0"/>
<rect x="1110" y="585" width="1" height="107" fill="#c0c0c0"/>
<rect x="1118" y="584" width="1" height="108" fill="#c0c0c0"/>
<rect x="1126" y="586" width="1" height="106" fill="#c0c0c0"/>
<rect x="1134" y="586" width="1" height="106" fill="#c0c0c0"/>
<rect x="1142" y="597" width="1" height="95" fill="#c0c0c0"/>
<rect x="1150" y="611" width="1" height="81" fill="#c0c0c0"/>
<rect x="1158" y="620" width="1" height="72" fill="#c0c0c0"/>
<rect x="1166" y="634" width="1" height="58" fill="#c0c0c0"/>
<rect x="1174" y="643" width="1" height="49" fill="#c0c0c0"/>
<rect x="1182" y="653" width="1" height="39" fill="#c0c0c0"/>
<rect x="1190" y="665" width="1" height="27" fill="#c0c0c0"/>
<rect x="1198" y="673" width="1" height="19" fill="#c0c0c0"/>
<rect x="1206" y="682" width="1" height="10" fill="#c0c0c0"/>
<rect x="1214" y="687" width="1" height="5" fill="#c0c0c0"/>
<rect x="1222" y="688" width="1" height="4" fill="#c0c0c0"/>
<rect x="1238" y="691" width="1" height="7" fill="#c0c0c0"/>
<rect x="1246" y="691" width="1" height="11" fill="#c0c0c0"/>
<rect x="1254" y="691" width="1" height="13" fill="#c0c0c0"/>
<rect x="1262" y="691" width="1" height="11" fill="#c0c0c0"/>
<rect x="1270" y="691" width="1" height="11" fill="#c0c0c0"/>
<rect x="1278" y="691" width="1" height="7" fill="#c0c0c0"/>
<rect x="1294" y="685" width="1" height="7" fill="#c0c0c0"/>
<rect x="1302" y="680" width="1" height="12" fill="#c0c0c0"/>
<rect x="1310" y="673" width="1" height="19" fill="#c0c0c0"/>
<rect x="1318" y="666" width="1" height="26" fill="#c0c0c0"/>
<rect x="1326" y="668" width="1" height="24" fill="#c0c0c0"/>
<rect x="1334" y="670" width="1" height="22" fill="#c0c0c0"/>
<rect x="1342" y="672" width="1" height="20" fill="#c0c0c0"/>
<rect x="1350" y="672" width="1" height="20" fill="#c0c0c0"/>
<rect x="1358" y="672" width="1" height="20" fill="#c0c0c0"/>
<rect x="1366" y="675" width="1" height="17" fill="#c0c0c0"/>
<rect x="1374" y="677" width="1" height="15" fill="#c0c0c0"/>
<rect x="1382" y="675" width="1" height="17" fill="#c0c0c0"/>
<rect x="1390" y="672" width="1" height="20" fill="#c0c0c0"/>
<rect x="1398" y="668" width="1" height="24" fill="#c0c0c0"/>
<rect x="1406" y="662" width="1" height="30" fill="#c0c0c0"/>
<rect x="1414" y="655" width="1" height="37" fill="#c0c0c0"/>
<rect x="1422" y="654" width="1" height="38" fill="#c0c0c0"/>
<rect x="1430" y="645" width="1" height="47" fill="#c0c0c0"/>
<rect x="1438" y="638" width="1" height="54" fill="#c0c0c0"/>
<polyline points="0.00,672.50 6.50,674.50 14.50,675.50 22.50,677.50 30.50,680.50 38.50,682.50 46.50,684.50 54.50,686.50 62.50,688.50 70.50,690.50 78.50,691.50 86.50,692.50 94.50,691.50 102.50,691.50 110.50,690.50 118.50,688.50 126.50,685.50 134.50,683.50 142.50,681.50 150.50,679.50 158.50,677.50 166.50,676.50 174.50,676.50 182.50,676.50 190.50,677.50 198.50,680.50 206.50,682.50 214.50,683.50 222.50,685.50 230.50,687.50 238.50,690.50 246.50,692.50 254.50,695.50 262.50,697.50 270.50,698.50 278.50,700.50 286.50,702.50 294.50,703.50 302.50,704.50 310.50,703.50 318.50,703.50 326.50,701.50 334.50,698.50 342.50,696.50 350.50,692.50 358.50,689.50 366.50,685.50 374.50,680.50 382.50,676.50 390.50,673.50 398.50,671.50 406.50,670.50 414.50,670.50 422.50,672.50 430.50,675.50 438.50,679.50 446.50,683.50 454.50,687.50 462.50,691.50 470.50,695.50 478.50,698.50 486.50,700.50 494.50,701.50 502.50,701.50 510.50,700.50 518.50,699.50 526.50,698.50 534.50,696.50 542.50,695.50 550.50,694.50 558.50,692.50 566.50,692.50 574.50,692.50 582.50,694.50 590.50,696.50 598.50,698.50 606.50,702.50 614.50,706.50 622.50,711.50 630.50,716.50 638.50,721.50 646.50,725.50 654.50,728.50 662.50,731.50 670.50,731.50 678.50,730.50 686.50,728.50 694.50,724.50 702.50,719.50 710.50,714.50 718.50,708.50 726.50,702.50 734.50,697.50 742.50,692.50 750.50,689.50 758.50,687.50 766.50,687.50 774.50,689.50 782.50,691.50 790.50,693.50 798.50,696.50 806.50,700.50 814.50,704.50 822.50,708.50 830.50,711.50 838.50,713.50 846.50,714.50 854.50,714.50 862.50,714.50 870.50,713.50 878.50,710.50 886.50,706.50 894.50,701.50 902.50,695.50 910.50,689.50 918.50,682.50 926.50,674.50 934.50,667.50 942.50,660.50 950.50,653.50 958.50,646.50 966.50,639.50 974.50,634.50 982.50,629.50 990.50,624.50 998.50,620.50 1006.50,616.50 1014.50,613.50 1022.50,610.50 1030.50,608.50 1038.50,605.50 1046.50,603.50 1054.50,600.50 1062.50,598.50 1070.50,596.50 1078.50,595.50 1086.50,595.50 1094.50,594.50 1102.50,593.50 1110.50,592.50 1118.50,591.50 1126.50,590.50 1134.50,590.50 1142.50,590.50 1150.50,592.50 1158.50,594.50 1166.50,599.50 1174.50,605.50 1182.50,613.50 1190.50,622.50 1198.50,631.50 1206.50,642.50 1214.50,652.50 1222.50,661.50 1230.50,669.50 1238.50,676.50 1246.50,682.50 1254.50,688.50 1262.50,692.50 1270.50,695.50 1278.50,696.50 1286.50,697.50 1294.50,696.50 1302.50,695.50 1310.50,692.50 1318.50,689.50 1326.50,685.50 1334.50,681.50 1342.50,678.50 1350.50,675.50 1358.50,673.50 1366.50,672.50 1374.50,672.50 1382.50,672.50 1390.50,673.50 1398.50,673.50 1406.50,672.50 1414.50,670.50 1422.50,668.50 1430.50,665.50 1438.50,661.50" fill="none" stroke="#ff0000" stroke-width="1" stroke-dasharray="3,3" shape-rendering="crispEdges"/>
<text x="-7" y="588" font-family="Liberation Sans" font-size="10" fill="#000000" text-anchor="start" font-weight="normal" textLength="129" lengthAdjust="spacingAndGlyphs" stroke="#000000" stroke-width="0.12">MACD(12,26,9) 0.2014 0.1152</text>
<rect x="1650" y="577" width="2" height="1" fill="#000000"/>
<text x="1653" y="587" font-family="Liberation Sans" font-size="10" fill="#000000" text-anchor="start" font-weight="normal" textLength="28" lengthAdjust="spacingAndGlyphs" stroke="#000000" stroke-width="0.12">0.4374</text>
<rect x="1650" y="691" width="2" height="1" fill="#000000"/>
<text x="1653" y="695" font-family="Liberation Sans" font-size="10" fill="#000000" text-anchor="start" font-weight="normal" textLength="18" lengthAdjust="spacingAndGlyphs" stroke="#000000" stroke-width="0.12">0.00</text>
<rect x="1650" y="744" width="2" height="1" fill="#000000"/>
<text x="1653" y="742" font-family="Liberation Sans" font-size="10" fill="#000000" text-anchor="start" font-weight="normal" textLength="30" lengthAdjust="spacingAndGlyphs" stroke="#000000" stroke-width="0.12">-0.2044</text>
<line x1="0" y1="783.5" x2="1649" y2="783.5" stroke="#c0c0c0" stroke-width="1" stroke-dasharray="3,3" shape-rendering="crispEdges"/>
<line x1="0" y1="834.5" x2="1649" y2="834.5" stroke="#c0c0c0" stroke-width="1" stroke-dasharray="3,3" shape-rendering="crispEdges"/>
<line x1="0" y1="895.5" x2="1649" y2="895.5" stroke="#c0c0c0" stroke-width="1" stroke-dasharray="3,3" shape-rendering="crispEdges"/>
<polyline points="0.00,838.50 6.50,840.50 14.50,847.50 22.50,843.50 30.50,837.50 38.50,835.50 46.50,836.50 54.50,830.50 62.50,838.50 70.50,843.50 78.50,838.50 86.50,822.50 94.50,827.50 102.50,822.50 110.50,814.50 118.50,802.50 126.50,806.50 134.50,833.50 142.50,834.50 150.50,829.50 158.50,835.50 166.50,835.50 174.50,836.50 182.50,834.50 190.50,841.50 198.50,839.50 206.50,833.50 214.50,832.50 222.50,839.50 230.50,860.50 238.50,861.50 246.50,847.50 254.50,842.50 262.50,837.50 270.50,841.50 278.50,840.50 286.50,840.50 294.50,843.50 302.50,845.50 310.50,834.50 318.50,823.50 326.50,813.50 334.50,807.50 342.50,807.50 350.50,807.50 358.50,812.50 366.50,809.50 374.50,807.50 382.50,816.50 390.50,820.50 398.50,823.50 406.50,847.50 414.50,853.50 422.50,860.50 430.50,864.50 438.50,854.50 446.50,844.50 454.50,838.50 462.50,844.50 470.50,838.50 478.50,841.50 486.50,839.50 494.50,836.50 502.50,825.50 510.50,823.50 518.50,837.50 526.50,832.50 534.50,834.50 542.50,828.50 550.50,834.50 558.50,824.50 566.50,855.50 574.50,856.50 582.50,850.50 590.50,856.50 598.50,864.50 606.50,871.50 614.50,858.50 622.50,860.50 630.50,858.50 638.50,862.50 646.50,857.50 654.50,853.50 662.50,834.50 670.50,832.50 678.50,833.50 686.50,824.50 694.50,818.50 702.50,816.50 710.50,820.50 718.50,821.50 726.50,818.50 734.50,822.50 742.50,836.50 750.50,851.50 758.50,853.50 766.50,858.50 774.50,852.50 782.50,839.50 790.50,838.50 798.50,852.50 806.50,855.50 814.50,861.50 822.50,863.50 830.50,840.50 838.50,842.50 846.50,836.50 854.50,832.50 862.50,823.50 870.50,820.50 878.50,821.50 886.50,814.50 894.50,811.50 902.50,804.50 910.50,801.50 918.50,798.50 926.50,795.50 934.50,794.50 942.50,791.50 950.50,786.50 958.50,784.50 966.50,786.50 974.50,806.50 982.50,798.50 990.50,790.50 998.50,795.50 1006.50,794.50 1014.50,797.50 1022.50,789.50 1030.50,789.50 1038.50,784.50 1046.50,792.50 1054.50,789.50 1062.50,787.50 1070.50,796.50 1078.50,806.50 1086.50,803.50 1094.50,790.50 1102.50,787.50 1110.50,789.50 1118.50,791.50 1126.50,793.50 1134.50,790.50 1142.50,823.50 1150.50,833.50 1158.50,826.50 1166.50,840.50 1174.50,835.50 1182.50,839.50 1190.50,846.50 1198.50,843.50 1206.50,847.50 1214.50,841.50 1222.50,836.50 1230.50,840.50 1238.50,846.50 1246.50,847.50 1254.50,844.50 1262.50,833.50 1270.50,837.50 1278.50,831.50 1286.50,823.50 1294.50,820.50 1302.50,819.50 1310.50,813.50 1318.50,811.50 1326.50,829.50 1334.50,832.50 1342.50,829.50 1350.50,827.50 1358.50,827.50 1366.50,835.50 1374.50,832.50 1382.50,823.50 1390.50,818.50 1398.50,815.50 1406.50,807.50 1414.50,803.50 1422.50,818.50 1430.50,803.50 1438.50,802.50" fill="none" stroke="#1e90ff" stroke-width="1" shape-rendering="crispEdges"/>
<text x="-8.5" y="760" font-family="Liberation Sans" font-size="10" fill="#000000" text-anchor="start" font-weight="normal" textLength="70.5" lengthAdjust="spacingAndGlyphs" stroke="#000000" stroke-width="0.12">RSI(14) 69.0765</text>
<rect x="1650" y="749" width="2" height="1" fill="#000000"/>
<text x="1653" y="758" font-family="Liberation Sans" font-size="10" fill="#000000" text-anchor="start" font-weight="normal" textLength="14" lengthAdjust="spacingAndGlyphs" stroke="#000000" stroke-width="0.12">100</text>
<rect x="1650" y="783" width="2" height="1" fill="#000000"/>
<text x="1653" y="787" font-family="Liberation Sans" font-size="10" fill="#000000" text-anchor="start" font-weight="normal" textLength="9" lengthAdjust="spacingAndGlyphs" stroke="#000000" stroke-width="0.12">80</text>
<rect x="1650" y="834" width="2" height="1" fill="#000000"/>
<text x="1653" y="838" font-family="Liberation Sans" font-size="10" fill="#000000" text-anchor="start" font-weight="normal" textLength="9" lengthAdjust="spacingAndGlyphs" stroke="#000000" stroke-width="0.12">50</text>
<rect x="1650" y="895" width="2" height="1" fill="#000000"/>
<text x="1653" y="899" font-family="Liberation Sans" font-size="10" fill="#000000" text-anchor="start" font-weight="normal" textLength="9" lengthAdjust="spacingAndGlyphs" stroke="#000000" stroke-width="0.12">15</text>
<rect x="1650" y="919" width="2" height="1" fill="#000000"/>
<text x="1653" y="918" font-family="Liberation Sans" font-size="10" fill="#000000" text-anchor="start" font-weight="normal" textLength="5" lengthAdjust="spacingAndGlyphs" stroke="#000000" stroke-width="0.12">0</text>
<rect x="54" y="922" width="1" height="4" fill="#000000"/>
<text x="53" y="934" font-family="Liberation Sans" font-size="10" fill="#000000" text-anchor="start" font-weight="normal" textLength="54.6" lengthAdjust="spacingAndGlyphs" stroke="#000000" stroke-width="0.12">30 Aug 20:00</text>
<rect x="118" y="922" width="1" height="4" fill="#000000"/>
<text x="117" y="934" font-family="Liberation Sans" font-size="10" fill="#000000" text-anchor="start" font-weight="normal" textLength="49.9" lengthAdjust="spacingAndGlyphs" stroke="#000000" stroke-width="0.12">1 Sep 04:00</text>
<rect x="182" y="922" width="1" height="4" fill="#000000"/>
<text x="181" y="934" font-family="Liberation Sans" font-size="10" fill="#000000" text-anchor="start" font-weight="normal" textLength="49.9" lengthAdjust="spacingAndGlyphs" stroke="#000000" stroke-width="0.12">2 Sep 12:00</text>
<rect x="246" y="922" width="1" height="4" fill="#000000"/>
<text x="245" y="934" font-family="Liberation Sans" font-size="10" fill="#000000" text-anchor="start" font-weight="normal" textLength="49.9" lengthAdjust="spacingAndGlyphs" stroke="#000000" stroke-width="0.12">5 Sep 23:00</text>
<rect x="310" y="922" width="1" height="4" fill="#000000"/>
<text x="309" y="934" font-family="Liberation Sans" font-size="10" fill="#000000" text-anchor="start" font-weight="normal" textLength="49.9" lengthAdjust="spacingAndGlyphs" stroke="#000000" stroke-width="0.12">7 Sep 04:00</text>
<rect x="374" y="922" width="1" height="4" fill="#000000"/>
<text x="373" y="934" font-family="Liberation Sans" font-size="10" fill="#000000" text-anchor="start" font-weight="normal" textLength="49.9" lengthAdjust="spacingAndGlyphs" stroke="#000000" stroke-width="0.12">8 Sep 12:00</text>
<rect x="438" y="922" width="1" height="4" fill="#000000"/>
<text x="437" y="934" font-family="Liberation Sans" font-size="10" fill="#000000" text-anchor="start" font-weight="normal" textLength="49.9" lengthAdjust="spacingAndGlyphs" stroke="#000000" stroke-width="0.12">9 Sep 20:00</text>
<rect x="502" y="922" width="1" height="4" fill="#000000"/>
<text x="501" y="934" font-family="Liberation Sans" font-size="10" fill="#000000" text-anchor="start" font-weight="normal" textLength="55.1" lengthAdjust="spacingAndGlyphs" stroke="#000000" stroke-width="0.12">13 Sep 04:00</text>
<rect x="566" y="922" width="1" height="4" fill="#000000"/>
<text x="565" y="934" font-family="Liberation Sans" font-size="10" fill="#000000" text-anchor="start" font-weight="normal" textLength="55.1" lengthAdjust="spacingAndGlyphs" stroke="#000000" stroke-width="0.12">14 Sep 12:00</text>
<rect x="630" y="922" width="1" height="4" fill="#000000"/>
<text x="629" y="934" font-family="Liberation Sans" font-size="10" fill="#000000" text-anchor="start" font-weight="normal" textLength="55.1" lengthAdjust="spacingAndGlyphs" stroke="#000000" stroke-width="0.12">15 Sep 20:00</text>
<rect x="694" y="922" width="1" height="4" fill="#000000"/>
<text x="693" y="934" font-family="Liberation Sans" font-size="10" fill="#000000" text-anchor="start" font-weight="normal" textLength="55.1" lengthAdjust="spacingAndGlyphs" stroke="#000000" stroke-width="0.12">17 Sep 04:00</text>
<rect x="758" y="922" width="1" height="4" fill="#000000"/>
<text x="757" y="934" font-family="Liberation Sans" font-size="10" fill="#000000" text-anchor="start" font-weight="normal" textLength="55.1" lengthAdjust="spacingAndGlyphs" stroke="#000000" stroke-width="0.12">20 Sep 12:00</text>
<rect x="822" y="922" width="1" height="4" fill="#000000"/>
<text x="821" y="934" font-family="Liberation Sans" font-size="10" fill="#000000" text-anchor="start" font-weight="normal" textLength="55.1" lengthAdjust="spacingAndGlyphs" stroke="#000000" stroke-width="0.12">21 Sep 20:00</text>
<rect x="886" y="922" width="1" height="4" fill="#000000"/>
<text x="885" y="934" font-family="Liberation Sans" font-size="10" fill="#000000" text-anchor="start" font-weight="normal" textLength="55.1" lengthAdjust="spacingAndGlyphs" stroke="#000000" stroke-width="0.12">23 Sep 04:00</text>
<rect x="950" y="922" width="1" height="4" fill="#000000"/>
<text x="949" y="934" font-family="Liberation Sans" font-size="10" fill="#000000" text-anchor="start" font-weight="normal" textLength="55.1" lengthAdjust="spacingAndGlyphs" stroke="#000000" stroke-width="0.12">24 Sep 12:00</text>
<rect x="1014" y="922" width="1" height="4" fill="#000000"/>
<text x="1013" y="934" font-family="Liberation Sans" font-size="10" fill="#000000" text-anchor="start" font-weight="normal" textLength="55.1" lengthAdjust="spacingAndGlyphs" stroke="#000000" stroke-width="0.12">27 Sep 20:00</text>
<rect x="1078" y="922" width="1" height="4" fill="#000000"/>
<text x="1077" y="934" font-family="Liberation Sans" font-size="10" fill="#000000" text-anchor="start" font-weight="normal" textLength="55.1" lengthAdjust="spacingAndGlyphs" stroke="#000000" stroke-width="0.12">29 Sep 04:00</text>
<rect x="1142" y="922" width="1" height="4" fill="#000000"/>
<text x="1141" y="934" font-family="Liberation Sans" font-size="10" fill="#000000" text-anchor="start" font-weight="normal" textLength="55.1" lengthAdjust="spacingAndGlyphs" stroke="#000000" stroke-width="0.12">30 Sep 12:00</text>
<rect x="1206" y="922" width="1" height="4" fill="#000000"/>
<text x="1205" y="934" font-family="Liberation Sans" font-size="10" fill="#000000" text-anchor="start" font-weight="normal" textLength="47.8" lengthAdjust="spacingAndGlyphs" stroke="#000000" stroke-width="0.12">3 Oct 23:00</text>
<rect x="1270" y="922" width="1" height="4" fill="#000000"/>
<text x="1269" y="934" font-family="Liberation Sans" font-size="10" fill="#000000" text-anchor="start" font-weight="normal" textLength="47.8" lengthAdjust="spacingAndGlyphs" stroke="#000000" stroke-width="0.12">5 Oct 04:00</text>
<rect x="1334" y="922" width="1" height="4" fill="#000000"/>
<text x="1333" y="934" font-family="Liberation Sans" font-size="10" fill="#000000" text-anchor="start" font-weight="normal" textLength="47.8" lengthAdjust="spacingAndGlyphs" stroke="#000000" stroke-width="0.12">6 Oct 12:00</text>
<rect x="1398" y="922" width="1" height="4" fill="#000000"/>
<text x="1397" y="934" font-family="Liberation Sans" font-size="10" fill="#000000" text-anchor="start" font-weight="normal" textLength="47.8" lengthAdjust="spacingAndGlyphs" stroke="#000000" stroke-width="0.12">7 Oct 20:00</text>
<text x="3" y="934" font-family="Liberation Sans" font-size="10" fill="#000000" text-anchor="start" font-weight="normal" textLength="38" lengthAdjust="spacingAndGlyphs" stroke="#000000" stroke-width="0.12">Aug 2021</text>
<rect x="0" y="20" width="1650" height="1" fill="#000000"/>
<rect x="1649" y="20" width="1" height="902" fill="#000000"/>
<rect x="0" y="573" width="1650" height="1" fill="#000000"/>
<rect x="0" y="575" width="1650" height="1" fill="#000000"/>
<rect x="0" y="745" width="1650" height="1" fill="#000000"/>
<rect x="0" y="747" width="1650" height="1" fill="#000000"/>
<rect x="0" y="921" width="1650" height="1" fill="#000000"/>
<rect x="1695" y="18" width="1" height="920" fill="#e4e4e4"/>
<rect x="0" y="0" width="1696" height="16" fill="#f0f0f0"/>
<rect x="0" y="15" width="1696" height="1" fill="#f6f6f6"/>
<rect x="0" y="16" width="1696" height="1" fill="#a2a2a2"/>
<rect x="0" y="17" width="1696" height="1" fill="#6c6c6c"/>
<path d="M0,8 L3,11 L1,13 L0,12 Z" fill="#d8a020"/>
<rect x="10" y="0" width="1" height="14" fill="#a0a0a0"/><rect x="11" y="0" width="1" height="14" fill="#ffffff"/>
<path d="M20,0 H31 V9 H20 Z" fill="#ffffff" stroke="#808080" stroke-width="1"/>
<rect x="22" y="3" width="6" height="1" fill="#909090"/><rect x="22" y="5" width="5" height="1" fill="#909090"/>
<path d="M28,4 H32 V8 H36 V12 H32 V15 H28 V12 H24 V8 H28 Z" fill="#22cc22" stroke="#109010" stroke-width="1"/>
<g transform="translate(38,0)" stroke="#101010" stroke-width="1" fill="none" shape-rendering="crispEdges"><path d="M1.5,1.5 H7.5 M4.5,0 V8 M1.5,4.5 H7.5 M1.5,7.5 L3.5,5.5 M7.5,7.5 L5.5,5.5 M8.5,1.5 H14.5 M10.5,1.5 V8 M14.5,3.5 V8 M10.5,4.5 H15.5"/></g>
<g transform="translate(54,0)" stroke="#101010" stroke-width="1" fill="none" shape-rendering="crispEdges"><path d="M1.5,1 L2.5,2 M0.5,4.5 H2.5 V7.5 L3.5,6.5 M3.5,0.5 H9.5 M6.5,0.5 V7.5 H4"/></g>
<g transform="translate(63,0)" stroke="#101010" stroke-width="1" fill="none" shape-rendering="crispEdges"><path d="M1.5,0 V3.5 H11.5 V0 M1.5,1.5 H11.5 M6.5,0 V8 M0,5.5 H13"/></g>
<path d="M88,2 L94,-2 L103,5 L97,11 Z" fill="#e0b030" stroke="#a07010" stroke-width="1"/>
<path d="M89,5 L97,12 L102,8" fill="none" stroke="#c08820" stroke-width="1"/>
<rect x="119" y="0" width="8" height="6" fill="#3a8ee0"/><rect x="121" y="1" width="4" height="3" fill="#ffffff"/>
<path d="M116,11 Q115,7 120,7 Q122,3 127,6 Q131,6 130,11 Z" fill="#e8eef8" stroke="#8090b0" stroke-width="1"/>
<circle cx="150" cy="4" r="7" fill="none" stroke="#7090d0" stroke-width="1"/><circle cx="150" cy="4" r="4" fill="none" stroke="#5080d0" stroke-width="1"/><circle cx="150" cy="4" r="1.5" fill="#3060c0"/>
<path d="M150,4 V11 M150,11 A7,7 0 0 0 157,4" fill="none" stroke="#30a030" stroke-width="1.5"/>
<path d="M170,2 H186 L183,9 L178,12 L171,7 Z" fill="#f0d040" stroke="#b09020" stroke-width="1"/>
<ellipse cx="178" cy="1" rx="8" ry="3" fill="#50a0e0"/>
<circle cx="183" cy="8" r="4" fill="#d02010"/><rect x="181.5" y="6.5" width="3" height="3" fill="#ffffff"/>
<g transform="translate(191,0)" stroke="#101010" stroke-width="1" fill="none" shape-rendering="crispEdges"><path d="M1.5,0 V7.5 M10.5,0 V7.5 M1.5,1.5 H10.5 M1.5,4.5 H10.5 M1.5,7.5 H10.5"/></g>
<g transform="translate(203,0)" stroke="#101010" stroke-width="1" fill="none" shape-rendering="crispEdges"><path d="M0.5,1.5 H5.5 M0,4.5 H6 M3.5,4.5 L1.5,7.5 M1.5,7.5 H5.5 L4.5,6 M7,1.5 H11.5 V7.5 H10 M9.5,0 V4 L7.5,7.5"/></g>
<g transform="translate(215,0)" stroke="#101010" stroke-width="1" fill="none" shape-rendering="crispEdges"><path d="M6.5,0 V1 M0.5,1.5 H12.5 M3.5,2.5 L1.5,4 M9.5,2.5 L11.5,4 M3,4.5 L10.5,7.5 M10,4.5 L2,7.5"/></g>
<g transform="translate(227,0)" stroke="#101010" stroke-width="1" fill="none" shape-rendering="crispEdges"><path d="M2.5,0 V2.5 H10.5 V0 M1.5,4 H11.5 L10.5,7.5 H8 M4.5,4 L1.5,7.5 M7.5,4.5 L5,7.5"/></g>
<rect x="246" y="0" width="1" height="14" fill="#a0a0a0"/><rect x="247" y="0" width="1" height="14" fill="#ffffff"/>
<rect x="251" y="1" width="3" height="1" fill="#b0b0b0"/>
<rect x="251" y="3" width="3" height="1" fill="#b0b0b0"/>
<rect x="251" y="5" width="3" height="1" fill="#b0b0b0"/>
<rect x="251" y="7" width="3" height="1" fill="#b0b0b0"/>
<rect x="251" y="9" width="3" height="1" fill="#b0b0b0"/>
<rect x="251" y="11" width="3" height="1" fill="#b0b0b0"/>
<rect x="251" y="13" width="3" height="1" fill="#b0b0b0"/>
<g shape-rendering="crispEdges"><rect x="264" y="0" width="1" height="12" fill="#505050"/><rect x="262" y="9" width="11" height="1" fill="#505050"/></g><polygon points="273,7 276,9.5 273,12" fill="#505050"/>
<path d="M268,6.5 H270.5 V0.5 H273" stroke="#109010" stroke-width="1.2" fill="none"/>
<rect x="284" y="0" width="1" height="14" fill="#a0a0a0"/><rect x="285" y="0" width="1" height="14" fill="#ffffff"/>
<rect x="286" y="0" width="23" height="14" fill="#e8e8e8"/>
<g shape-rendering="crispEdges"><rect x="292" y="0" width="1" height="12" fill="#505050"/><rect x="290" y="9" width="11" height="1" fill="#505050"/></g><polygon points="301,7 304,9.5 301,12" fill="#505050"/>
<rect x="296" y="0" width="5" height="6" fill="#30d030" stroke="#109010" stroke-width="0.8"/><rect x="298" y="6" width="1" height="2" fill="#109010"/>
<g shape-rendering="crispEdges"><rect x="320" y="0" width="1" height="12" fill="#505050"/><rect x="318" y="9" width="11" height="1" fill="#505050"/></g><polygon points="329,7 332,9.5 329,12" fill="#505050"/>
<path d="M319,6.5 Q325,-2 330.5,5" stroke="#209020" stroke-width="1.1" fill="none"/>
<rect x="341" y="0" width="1" height="14" fill="#a0a0a0"/><rect x="342" y="0" width="1" height="14" fill="#ffffff"/>
<circle cx="357" cy="2" r="5" fill="#d8ecfc" stroke="#4080d0" stroke-width="1.3"/><path d="M354,2 H360 M357,-1 V5" stroke="#2060b0" stroke-width="1.3"/><path d="M360,6 L365,11" stroke="#c8a818" stroke-width="2.5"/>
<circle cx="385" cy="2" r="5" fill="#d8ecfc" stroke="#4080d0" stroke-width="1.3"/><path d="M382,2 H388" stroke="#2060b0" stroke-width="1.3"/><path d="M388,6 L393,11" stroke="#c8a818" stroke-width="2.5"/>
<rect x="406" y="0" width="7" height="5" fill="#30a030"/><rect x="414" y="0" width="7" height="5" fill="#3060d0"/><rect x="406" y="5" width="7" height="7" fill="#3060d0"/><rect x="414" y="5" width="7" height="7" fill="#30a030"/>
<rect x="407" y="7" width="5" height="2" fill="#ffffff"/><rect x="415" y="7" width="5" height="2" fill="#ffffff"/><rect x="407" y="1" width="5" height="2" fill="#ffffff"/><rect x="415" y="1" width="5" height="2" fill="#ffffff"/>
<rect x="431" y="0" width="1" height="14" fill="#a0a0a0"/><rect x="432" y="0" width="1" height="14" fill="#ffffff"/>
<rect x="436" y="0" width="1" height="14" fill="#a0a0a0"/><rect x="437" y="0" width="1" height="14" fill="#ffffff"/>
<g shape-rendering="crispEdges"><rect x="443" y="0" width="1" height="12" fill="#505050"/><rect x="441" y="9" width="11" height="1" fill="#505050"/></g><polygon points="452,7 455,9.5 452,12" fill="#505050"/>
<path d="M448,-1 L452,2 L448,5 Z" fill="#20b020"/>
<rect x="464" y="0" width="1" height="14" fill="#a0a0a0"/><rect x="465" y="0" width="1" height="14" fill="#ffffff"/>
<g shape-rendering="crispEdges"><rect x="472" y="0" width="1" height="12" fill="#505050"/><rect x="470" y="9" width="11" height="1" fill="#505050"/></g><polygon points="481,7 484,9.5 481,12" fill="#505050"/>
<path d="M478,0 V8" stroke="#2060c0" stroke-width="1"/><path d="M484,3 L480,3 M482,1 L480,3 L482,5" stroke="#e05010" stroke-width="1.2" fill="none"/>
<rect x="493" y="0" width="1" height="14" fill="#a0a0a0"/><rect x="494" y="0" width="1" height="14" fill="#ffffff"/>
<rect x="504" y="-2" width="11" height="11" fill="#ffffff" stroke="#707070"/>
<path d="M511,3 H514 V6 H518 V9 H514 V13 H511 V9 H507 V6 H511 Z" fill="#22cc22" stroke="#109010" stroke-width="1"/>
<path d="M524,3 H530 L527,6 Z" fill="#000000"/>
<circle cx="549" cy="4" r="7.5" fill="#1a60c8"/><circle cx="549" cy="3.5" r="5.5" fill="#f4f8ff"/><path d="M549,0 V4 H552" stroke="#404040" fill="none"/><path d="M543,7 A6,6 0 0 0 555,7" stroke="#5090e0" fill="none"/>
<path d="M563,3 H569 L566,6 Z" fill="#000000"/>
<rect x="580.5" y="-2.5" width="15" height="13" fill="#ffffff" stroke="#3070c0"/><path d="M582,3 L585,2 L588,3 L593,1" stroke="#b03010" fill="none"/><path d="M582,8 L585,7 L588,8 L593,6" stroke="#20a020" fill="none"/><rect x="581" y="4.5" width="14" height="1" fill="#3070c0"/>
<path d="M602,3 H608 L605,6 Z" fill="#000000"/>
<rect x="614" y="0" width="1" height="14" fill="#a0a0a0"/><rect x="615" y="0" width="1" height="14" fill="#ffffff"/>
<rect x="617" y="1" width="3" height="1" fill="#b0b0b0"/>
<rect x="617" y="3" width="3" height="1" fill="#b0b0b0"/>
<rect x="617" y="5" width="3" height="1" fill="#b0b0b0"/>
<rect x="617" y="7" width="3" height="1" fill="#b0b0b0"/>
<rect x="617" y="9" width="3" height="1" fill="#b0b0b0"/>
<rect x="617" y="11" width="3" height="1" fill="#b0b0b0"/>
<rect x="617" y="13" width="3" height="1" fill="#b0b0b0"/>
<rect x="623" y="0" width="21" height="14" fill="#e8e8e8"/>
<path d="M632,-1 L638,5 L635,5 L637,10 L635,11 L633,6 L631,8 Z" fill="#404040"/>
<path d="M657,4 H671 M664,-3 V11" stroke="#404040" stroke-width="1"/>
<rect x="681" y="0" width="1" height="14" fill="#a0a0a0"/><rect x="682" y="0" width="1" height="14" fill="#ffffff"/>
<rect x="698" y="0" width="1" height="11" fill="#404040"/>
<rect x="721" y="4" width="12" height="1" fill="#404040"/>
<path d="M749,11 L760,0" stroke="#404040" stroke-width="1"/>
<path d="M776,9 L787,0 M778,11 L789,2 M777,4 L783,4" stroke="#404040" stroke-width="1" fill="none"/>
<text x="786" y="13" font-family="Liberation Sans" font-size="7" font-weight="bold" fill="#404040">E</text>
<path d="M805,0 H817 M805,4 H817 M805,8 H815" stroke="#606060" stroke-dasharray="1,1" fill="none"/>
<text x="813" y="13" font-family="Liberation Sans" font-size="7" font-weight="bold" fill="#404040">F</text>
<path d="M834,10 L838,-2 L842,10 M835.5,6 H840.5" stroke="#505050" stroke-width="1.3" fill="none"/>
<rect x="861" y="-2" width="11" height="13" fill="none" stroke="#707070" stroke-dasharray="1,1"/><path d="M863,1 H870 M866.5,1 V9" stroke="#404040" stroke-width="1.5"/>
<path d="M889,2 L892,5 L896,0 M893,7 L897,4 L900,8 L897,11 Z" stroke="#404040" stroke-width="1.3" fill="#404040"/>
<path d="M908,3 H914 L911,6 Z" fill="#000000"/>
<rect x="920" y="0" width="1" height="14" fill="#a0a0a0"/><rect x="921" y="0" width="1" height="14" fill="#ffffff"/>
<rect x="924" y="1" width="3" height="1" fill="#b0b0b0"/>
<rect x="924" y="3" width="3" height="1" fill="#b0b0b0"/>
<rect x="924" y="5" width="3" height="1" fill="#b0b0b0"/>
<rect x="924" y="7" width="3" height="1" fill="#b0b0b0"/>
<rect x="924" y="9" width="3" height="1" fill="#b0b0b0"/>
<rect x="924" y="11" width="3" height="1" fill="#b0b0b0"/>
<rect x="924" y="13" width="3" height="1" fill="#b0b0b0"/>
<rect x="1069" y="0" width="22" height="14" fill="#e6e6e6"/><rect x="1069" y="0" width="1" height="14" fill="#c0c0c0"/>
<text x="936" y="9" font-family="Liberation Sans" font-size="10" fill="#404040" textLength="12" lengthAdjust="spacingAndGlyphs">M1</text>
<text x="964" y="9" font-family="Liberation Sans" font-size="10" fill="#404040" textLength="12" lengthAdjust="spacingAndGlyphs">M5</text>
<text x="990" y="9" font-family="Liberation Sans" font-size="10" fill="#404040" textLength="18" lengthAdjust="spacingAndGlyphs">M15</text>
<text x="1017" y="9" font-family="Liberation Sans" font-size="10" fill="#404040" textLength="18" lengthAdjust="spacingAndGlyphs">M30</text>
<text x="1048" y="9" font-family="Liberation Sans" font-size="10" fill="#404040" textLength="12" lengthAdjust="spacingAndGlyphs">H1</text>
<text x="1075" y="9" font-family="Liberation Sans" font-size="10" fill="#404040" textLength="12" lengthAdjust="spacingAndGlyphs">H4</text>
<text x="1104" y="9" font-family="Liberation Sans" font-size="10" fill="#404040" textLength="12" lengthAdjust="spacingAndGlyphs">D1</text>
<text x="1132" y="9" font-family="Liberation Sans" font-size="10" fill="#404040" textLength="14" lengthAdjust="spacingAndGlyphs">W1</text>
<text x="1158" y="9" font-family="Liberation Sans" font-size="10" fill="#404040" textLength="14" lengthAdjust="spacingAndGlyphs">MN</text>
<rect x="1181" y="0" width="1" height="14" fill="#a0a0a0"/><rect x="1182" y="0" width="1" height="14" fill="#ffffff"/>
<circle cx="1651.3" cy="1.8" r="4" fill="#f8f8ff" stroke="#2a60d8" stroke-width="1.3"/><path d="M1648.3,4.8 L1644.6,8.6" stroke="#1e58d0" stroke-width="2.4" stroke-linecap="round"/>
<ellipse cx="1673" cy="6.5" rx="5" ry="4.5" fill="#dcdce4" stroke="#a8a8a8" stroke-width="1"/><path d="M1670,10 L1671.5,12.5 L1674,10.5" fill="#dcdce4" stroke="#909090" stroke-width="0.8"/>
<circle cx="1682.3" cy="2.3" r="8" fill="#e02a10"/><path d="M1681.8,-2 V5.2 M1680,5.3 H1684" stroke="#ffffff" stroke-width="1.2" fill="none"/>
</svg>
</body></html>
